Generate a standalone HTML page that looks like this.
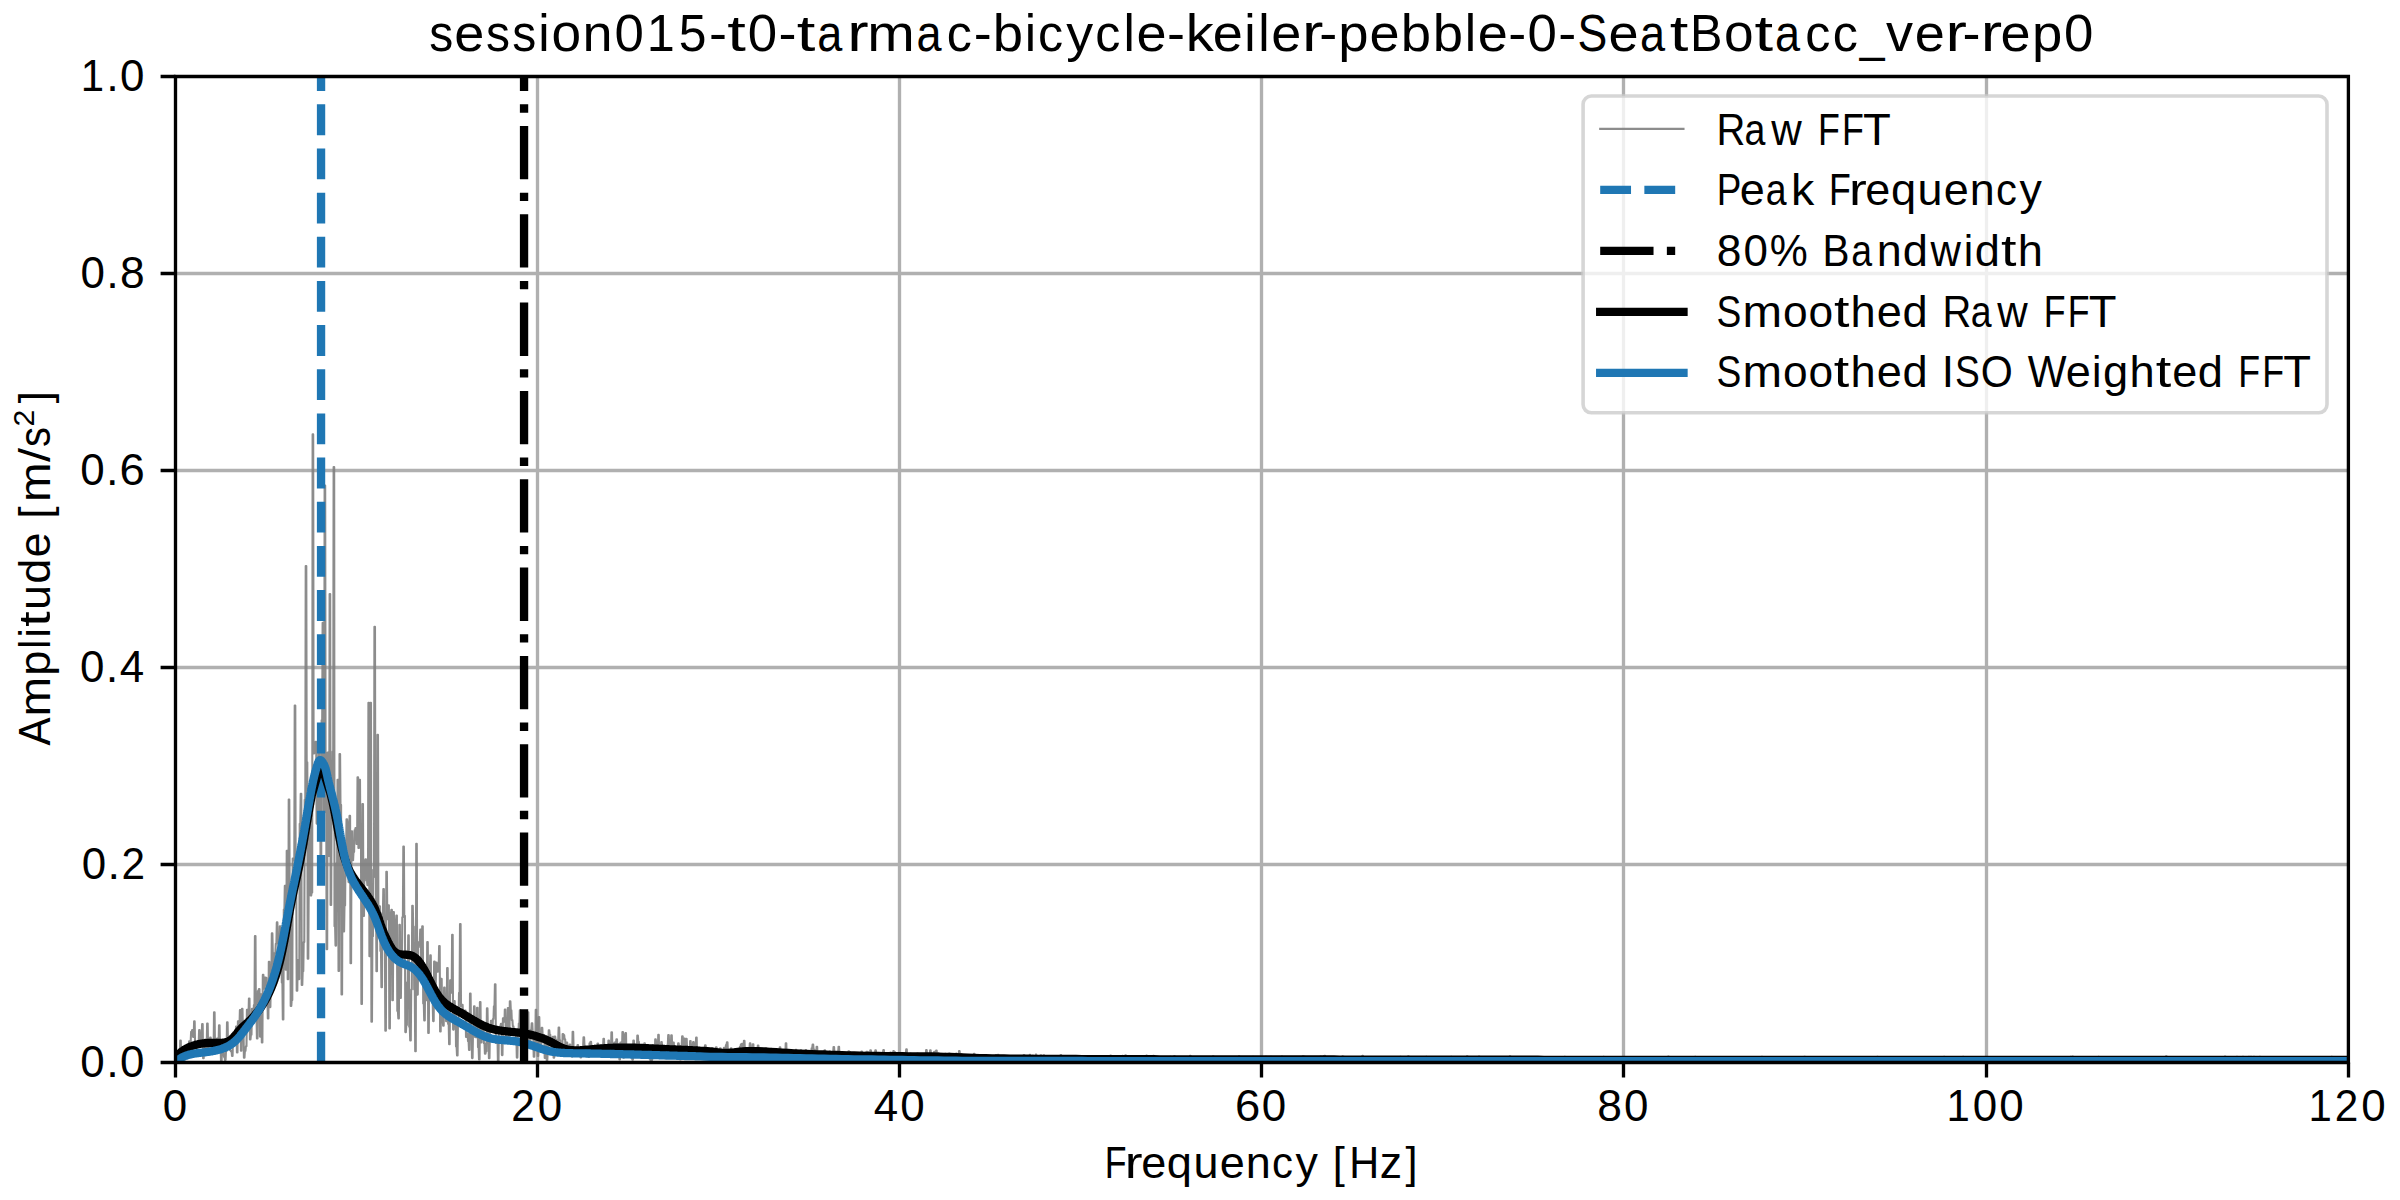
<!DOCTYPE html><html><head><meta charset="utf-8"><style>html,body{margin:0;padding:0;background:#fff;overflow:hidden}svg{display:block}text{font-family:"Liberation Sans",sans-serif;fill:#000}</style></head><body>
<svg width="2400" height="1200" viewBox="0 0 2400 1200">
<rect width="2400" height="1200" fill="#fff"/>
<defs><clipPath id="ax"><rect x="175.50" y="76.50" width="2172.90" height="986.00"/></clipPath></defs>
<path d="M537.50 1062.50V76.50M899.50 1062.50V76.50M1261.50 1062.50V76.50M1623.50 1062.50V76.50M1986.50 1062.50V76.50M175.50 864.50H2348.40M175.50 667.50H2348.40M175.50 470.50H2348.40M175.50 273.50H2348.40" stroke="#b0b0b0" stroke-width="3.33" fill="none" clip-path="url(#ax)"/>
<g clip-path="url(#ax)">
<path d="M175.2 1059.8L175.8 1059.8L176.2 1057.3L176.8 1057.3L177.2 1053.7L177.8 1053.7L178.2 1060.5L178.8 1060.5L179.2 1058.9L179.8 1058.9L180.2 1040.6L180.8 1040.6L181.2 1059.2L181.8 1059.2L182.2 1056.8L182.8 1056.8L183.2 1055.0L183.8 1055.0L184.2 1050.2L184.8 1050.2L185.2 1053.5L185.8 1053.5L186.2 1048.1L186.8 1048.1L187.2 1045.8L187.8 1045.8L188.1 1056.3L188.7 1056.3L189.1 1041.2L189.7 1041.2L190.1 1041.4L190.7 1041.4L191.1 1031.9L191.7 1031.9L192.1 1030.0L192.7 1030.0L193.1 1037.0L193.7 1037.0L194.1 1021.4L194.7 1021.4L195.1 1047.9L195.7 1047.9L196.1 1047.3L196.7 1047.3L197.1 1046.0L197.7 1046.0L198.1 1042.5L198.7 1042.5L199.1 1030.1L199.7 1030.1L200.1 1042.7L200.7 1042.7L201.1 1037.8L201.7 1037.8L202.1 1024.0L202.7 1024.0L203.1 1058.3L203.7 1058.3L204.1 1047.1L204.7 1047.1L205.1 1039.5L205.7 1039.5L206.1 1049.8L206.7 1049.8L207.1 1023.6L207.7 1023.6L208.1 1047.0L208.7 1047.0L209.1 1049.2L209.7 1049.2L210.1 1037.6L210.7 1037.6L211.1 1051.8L211.7 1051.8L212.0 1045.2L212.6 1045.2L213.0 1053.9L213.6 1053.9L214.0 1012.2L214.6 1012.2L215.0 1049.6L215.6 1049.6L216.0 1048.7L216.6 1048.7L217.0 1038.6L217.6 1038.6L218.0 1042.1L218.6 1042.1L219.0 1025.3L219.6 1025.3L220.0 1045.9L220.6 1045.9L221.0 1061.2L221.6 1061.2L222.0 1049.9L222.6 1049.9L223.0 1050.8L223.6 1050.8L224.0 1056.9L224.6 1056.9L225.0 1060.0L225.6 1060.0L226.0 1051.0L226.6 1051.0L227.0 1022.2L227.6 1022.2L228.0 1044.5L228.6 1044.5L229.0 1038.9L229.6 1038.9L230.0 1050.2L230.6 1050.2L231.0 1051.5L231.6 1051.5L232.0 1056.0L232.6 1056.0L233.0 1036.0L233.6 1036.0L234.0 1039.3L234.6 1039.3L235.0 1040.6L235.6 1040.6L236.0 1026.5L236.6 1026.5L236.9 1052.4L237.5 1052.4L237.9 1021.4L238.5 1021.4L238.9 1025.5L239.5 1025.5L239.9 1010.1L240.5 1010.1L240.9 1050.7L241.5 1050.7L241.9 1008.9L242.5 1008.9L242.9 1029.8L243.5 1029.8L243.9 1057.7L244.5 1057.7L244.9 1050.8L245.5 1050.8L245.9 1046.3L246.5 1046.3L246.9 1009.7L247.5 1009.7L247.9 1017.0L248.5 1017.0L248.9 998.6L249.5 998.6L249.9 1039.4L250.5 1039.4L250.9 1034.8L251.5 1034.8L251.9 1008.9L252.5 1008.9L252.9 1019.2L253.5 1019.2L253.9 1005.1L254.5 1005.1L254.9 936.0L255.5 936.0L255.9 1013.2L256.5 1013.2L256.9 1038.5L257.5 1038.5L257.9 991.0L258.5 991.0L258.9 989.0L259.5 989.0L259.9 1036.6L260.5 1036.6L260.8 994.4L261.4 994.4L261.8 1042.4L262.4 1042.4L262.8 974.9L263.4 974.9L263.8 988.8L264.4 988.8L264.8 977.6L265.4 977.6L265.8 977.7L266.4 977.7L266.8 992.1L267.4 992.1L267.8 1018.5L268.4 1018.5L268.8 961.8L269.4 961.8L269.8 1007.1L270.4 1007.1L270.8 979.5L271.4 979.5L271.8 933.4L272.4 933.4L272.8 953.1L273.4 953.1L273.8 976.6L274.4 976.6L274.8 953.1L275.4 953.1L275.8 943.7L276.4 943.7L276.8 922.4L277.4 922.4L277.8 939.9L278.4 939.9L278.8 966.1L279.4 966.1L279.8 926.2L280.4 926.2L280.8 936.9L281.4 936.9L281.8 982.6L282.4 982.6L282.8 1019.4L283.4 1019.4L283.8 909.6L284.4 909.6L284.8 885.7L285.4 885.7L285.7 969.7L286.3 969.7L286.7 850.8L287.3 850.8L287.7 979.2L288.3 979.2L288.7 799.5L289.3 799.5L289.7 898.0L290.3 898.0L290.7 1006.0L291.3 1006.0L291.7 1000.1L292.3 1000.1L292.7 858.6L293.3 858.6L293.7 860.5L294.3 860.5L294.7 705.5L295.3 705.5L295.7 890.6L296.3 890.6L296.7 990.7L297.3 990.7L297.7 960.4L298.3 960.4L298.7 979.1L299.3 979.1L299.7 823.7L300.3 823.7L300.7 793.7L301.3 793.7L301.7 985.0L302.3 985.0L302.7 971.2L303.3 971.2L303.7 942.1L304.3 942.1L304.7 799.7L305.3 799.7L305.7 566.0L306.3 566.0L306.7 762.3L307.3 762.3L307.7 958.7L308.3 958.7L308.7 890.8L309.3 890.8L309.6 794.6L310.2 794.6L310.6 895.5L311.2 895.5L311.6 892.6L312.2 892.6L312.6 434.4L313.2 434.4L313.6 753.4L314.2 753.4L314.6 752.2L315.2 752.2L315.6 741.9L316.2 741.9L316.6 823.6L317.2 823.6L317.6 821.4L318.2 821.4L318.6 726.5L319.2 726.5L319.6 795.0L320.2 795.0L320.6 877.2L321.2 877.2L321.6 720.3L322.2 720.3L322.6 622.7L323.2 622.7L323.6 812.8L324.2 812.8L324.6 485.5L325.2 485.5L325.6 771.3L326.2 771.3L326.6 949.2L327.2 949.2L327.6 752.6L328.2 752.6L328.6 856.0L329.2 856.0L329.6 594.0L330.2 594.0L330.6 905.0L331.2 905.0L331.6 792.1L332.2 792.1L332.6 751.6L333.2 751.6L333.6 467.0L334.2 467.0L334.5 926.3L335.1 926.3L335.5 945.6L336.1 945.6L336.5 863.3L337.1 863.3L337.5 779.8L338.1 779.8L338.5 970.9L339.1 970.9L339.5 754.0L340.1 754.0L340.5 804.9L341.1 804.9L341.5 994.4L342.1 994.4L342.5 847.6L343.1 847.6L343.5 931.4L344.1 931.4L344.5 905.4L345.1 905.4L345.5 855.4L346.1 855.4L346.5 819.3L347.1 819.3L347.5 822.6L348.1 822.6L348.5 882.1L349.1 882.1L349.5 815.9L350.1 815.9L350.5 963.3L351.1 963.3L351.5 831.4L352.1 831.4L352.5 860.2L353.1 860.2L353.5 852.0L354.1 852.0L354.5 830.4L355.1 830.4L355.5 828.0L356.1 828.0L356.5 843.9L357.1 843.9L357.5 777.3L358.1 777.3L358.4 848.0L359.0 848.0L359.4 779.7L360.0 779.7L360.4 843.9L361.0 843.9L361.4 1004.0L362.0 1004.0L362.4 804.0L363.0 804.0L363.4 916.0L364.0 916.0L364.4 862.7L365.0 862.7L365.4 859.2L366.0 859.2L366.4 880.6L367.0 880.6L367.4 885.1L368.0 885.1L368.4 702.7L369.0 702.7L369.4 956.2L370.0 956.2L370.4 702.7L371.0 702.7L371.4 1021.8L372.0 1021.8L372.4 936.3L373.0 936.3L373.4 869.8L374.0 869.8L374.4 626.8L375.0 626.8L375.4 877.2L376.0 877.2L376.4 971.2L377.0 971.2L377.4 734.9L378.0 734.9L378.4 918.2L379.0 918.2L379.4 906.2L380.0 906.2L380.4 951.0L381.0 951.0L381.4 987.2L382.0 987.2L382.3 913.0L382.9 913.0L383.3 889.0L383.9 889.0L384.3 942.9L384.9 942.9L385.3 1030.8L385.9 1030.8L386.3 871.8L386.9 871.8L387.3 919.1L387.9 919.1L388.3 905.3L388.9 905.3L389.3 1028.4L389.9 1028.4L390.3 913.7L390.9 913.7L391.3 909.9L391.9 909.9L392.3 1000.3L392.9 1000.3L393.3 912.1L393.9 912.1L394.3 951.2L394.9 951.2L395.3 922.2L395.9 922.2L396.3 915.6L396.9 915.6L397.3 1011.0L397.9 1011.0L398.3 1018.4L398.9 1018.4L399.3 924.9L399.9 924.9L400.3 998.0L400.9 998.0L401.3 960.1L401.9 960.1L402.3 917.2L402.9 917.2L403.3 846.6L403.9 846.6L404.3 915.8L404.9 915.8L405.3 1032.1L405.9 1032.1L406.3 1025.1L406.9 1025.1L407.2 982.3L407.8 982.3L408.2 935.4L408.8 935.4L409.2 1026.8L409.8 1026.8L410.2 1040.5L410.8 1040.5L411.2 989.5L411.8 989.5L412.2 905.7L412.8 905.7L413.2 926.6L413.8 926.6L414.2 989.4L414.8 989.4L415.2 1051.2L415.8 1051.2L416.2 843.8L416.8 843.8L417.2 994.6L417.8 994.6L418.2 947.2L418.8 947.2L419.2 941.7L419.8 941.7L420.2 929.6L420.8 929.6L421.2 963.9L421.8 963.9L422.2 926.2L422.8 926.2L423.2 1003.4L423.8 1003.4L424.2 1020.5L424.8 1020.5L425.2 975.3L425.8 975.3L426.2 1000.2L426.8 1000.2L427.2 942.1L427.8 942.1L428.2 1033.0L428.8 1033.0L429.2 976.9L429.8 976.9L430.2 955.4L430.8 955.4L431.1 990.7L431.7 990.7L432.1 1002.0L432.7 1002.0L433.1 1021.1L433.7 1021.1L434.1 961.5L434.7 961.5L435.1 988.2L435.7 988.2L436.1 962.6L436.7 962.6L437.1 971.8L437.7 971.8L438.1 967.4L438.7 967.4L439.1 946.0L439.7 946.0L440.1 1031.5L440.7 1031.5L441.1 978.9L441.7 978.9L442.1 1020.8L442.7 1020.8L443.1 1025.7L443.7 1025.7L444.1 987.6L444.7 987.6L445.1 1007.0L445.7 1007.0L446.1 1021.3L446.7 1021.3L447.1 968.0L447.7 968.0L448.1 1024.0L448.7 1024.0L449.1 1044.2L449.7 1044.2L450.1 980.3L450.7 980.3L451.1 992.8L451.7 992.8L452.1 934.7L452.7 934.7L453.1 1029.6L453.7 1029.6L454.1 1001.0L454.7 1001.0L455.1 1012.6L455.7 1012.6L456.0 1046.6L456.6 1046.6L457.0 1055.4L457.6 1055.4L458.0 1018.0L458.6 1018.0L459.0 992.9L459.6 992.9L460.0 924.0L460.6 924.0L461.0 1006.4L461.6 1006.4L462.0 1004.8L462.6 1004.8L463.0 1012.6L463.6 1012.6L464.0 1018.4L464.6 1018.4L465.0 1010.6L465.6 1010.6L466.0 1036.9L466.6 1036.9L467.0 1033.4L467.6 1033.4L468.0 1041.1L468.6 1041.1L469.0 1050.0L469.6 1050.0L470.0 993.5L470.6 993.5L471.0 1026.4L471.6 1026.4L472.0 1058.1L472.6 1058.1L473.0 1031.6L473.6 1031.6L474.0 1006.4L474.6 1006.4L475.0 1037.0L475.6 1037.0L476.0 1037.3L476.6 1037.3L477.0 1007.8L477.6 1007.8L478.0 1047.2L478.6 1047.2L479.0 1059.5L479.6 1059.5L479.9 1002.1L480.5 1002.1L480.9 1042.5L481.5 1042.5L481.9 1023.8L482.5 1023.8L482.9 1023.0L483.5 1023.0L483.9 1043.2L484.5 1043.2L484.9 1053.7L485.5 1053.7L485.9 1051.3L486.5 1051.3L486.9 1008.4L487.5 1008.4L487.9 1033.7L488.5 1033.7L488.9 1058.3L489.5 1058.3L489.9 1032.2L490.5 1032.2L490.9 1020.8L491.5 1020.8L491.9 1029.6L492.5 1029.6L492.9 1019.0L493.5 1019.0L493.9 1006.3L494.5 1006.3L494.9 984.3L495.5 984.3L495.9 1043.0L496.5 1043.0L496.9 1038.0L497.5 1038.0L497.9 1060.9L498.5 1060.9L498.9 1029.4L499.5 1029.4L499.9 1026.5L500.5 1026.5L500.9 1023.7L501.5 1023.7L501.9 1055.1L502.5 1055.1L502.9 1018.4L503.5 1018.4L503.9 1021.8L504.5 1021.8L504.8 1009.6L505.4 1009.6L505.8 1038.6L506.4 1038.6L506.8 1028.0L507.4 1028.0L507.8 1008.1L508.4 1008.1L508.8 1041.7L509.4 1041.7L509.8 1001.3L510.4 1001.3L510.8 1010.2L511.4 1010.2L511.8 1020.1L512.4 1020.1L512.8 1026.2L513.4 1026.2L513.8 1029.2L514.4 1029.2L514.8 1030.1L515.4 1030.1L515.8 1036.0L516.4 1036.0L516.8 1057.6L517.4 1057.6L517.8 1034.5L518.4 1034.5L518.8 1023.5L519.4 1023.5L519.8 1010.3L520.4 1010.3L520.8 1046.0L521.4 1046.0L521.8 1046.5L522.4 1046.5L522.8 1028.8L523.4 1028.8L523.8 1051.9L524.4 1051.9L524.8 1021.3L525.4 1021.3L525.8 1051.3L526.4 1051.3L526.8 1036.1L527.4 1036.1L527.8 1012.2L528.4 1012.2L528.7 1043.4L529.3 1043.4L529.7 1047.7L530.3 1047.7L530.7 1029.8L531.3 1029.8L531.7 1023.2L532.3 1023.2L532.7 1032.6L533.3 1032.6L533.7 1056.8L534.3 1056.8L534.7 1043.2L535.3 1043.2L535.7 1009.8L536.3 1009.8L536.7 1026.9L537.3 1026.9L537.7 1055.9L538.3 1055.9L538.7 1017.1L539.3 1017.1L539.7 1038.4L540.3 1038.4L540.7 1047.5L541.3 1047.5L541.7 1027.8L542.3 1027.8L542.7 1036.5L543.3 1036.5L543.7 1035.0L544.3 1035.0L544.7 1058.0L545.3 1058.0L545.7 1038.2L546.3 1038.2L546.7 1060.5L547.3 1060.5L547.7 1051.7L548.3 1051.7L548.7 1030.4L549.3 1030.4L549.7 1034.7L550.3 1034.7L550.7 1045.4L551.3 1045.4L551.7 1053.4L552.3 1053.4L552.7 1036.8L553.3 1036.8L553.6 1057.8L554.2 1057.8L554.6 1036.5L555.2 1036.5L555.6 1039.9L556.2 1039.9L556.6 1051.9L557.2 1051.9L557.6 1040.9L558.2 1040.9L558.6 1027.5L559.2 1027.5L559.6 1040.2L560.2 1040.2L560.6 1049.2L561.2 1049.2L561.6 1053.9L562.2 1053.9L562.6 1034.0L563.2 1034.0L563.6 1035.0L564.2 1035.0L564.6 1039.3L565.2 1039.3L565.6 1054.8L566.2 1054.8L566.6 1042.6L567.2 1042.6L567.6 1050.1L568.2 1050.1L568.6 1052.3L569.2 1052.3L569.6 1044.6L570.2 1044.6L570.6 1055.1L571.2 1055.1L571.6 1056.6L572.2 1056.6L572.6 1031.7L573.2 1031.7L573.6 1049.1L574.2 1049.1L574.6 1047.8L575.2 1047.8L575.6 1055.9L576.2 1055.9L576.6 1047.6L577.2 1047.6L577.5 1045.0L578.1 1045.0L578.5 1055.9L579.1 1055.9L579.5 1050.0L580.1 1050.0L580.5 1057.5L581.1 1057.5L581.5 1053.1L582.1 1053.1L582.5 1046.8L583.1 1046.8L583.5 1037.2L584.1 1037.2L584.5 1045.9L585.1 1045.9L585.5 1054.1L586.1 1054.1L586.5 1047.6L587.1 1047.6L587.5 1052.6L588.1 1052.6L588.5 1057.0L589.1 1057.0L589.5 1043.3L590.1 1043.3L590.5 1041.9L591.1 1041.9L591.5 1046.5L592.1 1046.5L592.5 1053.7L593.1 1053.7L593.5 1049.8L594.1 1049.8L594.5 1045.7L595.1 1045.7L595.5 1051.0L596.1 1051.0L596.5 1046.3L597.1 1046.3L597.5 1043.5L598.1 1043.5L598.5 1051.1L599.1 1051.1L599.5 1045.5L600.1 1045.5L600.5 1054.0L601.1 1054.0L601.5 1046.8L602.1 1046.8L602.4 1049.0L603.0 1049.0L603.4 1038.8L604.0 1038.8L604.4 1053.6L605.0 1053.6L605.4 1054.6L606.0 1054.6L606.4 1047.1L607.0 1047.1L607.4 1049.9L608.0 1049.9L608.4 1040.5L609.0 1040.5L609.4 1046.5L610.0 1046.5L610.4 1050.7L611.0 1050.7L611.4 1032.3L612.0 1032.3L612.4 1050.5L613.0 1050.5L613.4 1046.3L614.0 1046.3L614.4 1042.6L615.0 1042.6L615.4 1043.8L616.0 1043.8L616.4 1039.4L617.0 1039.4L617.4 1049.4L618.0 1049.4L618.4 1044.5L619.0 1044.5L619.4 1059.4L620.0 1059.4L620.4 1042.6L621.0 1042.6L621.4 1051.5L622.0 1051.5L622.4 1032.1L623.0 1032.1L623.4 1057.6L624.0 1057.6L624.4 1034.7L625.0 1034.7L625.4 1033.1L626.0 1033.1L626.3 1050.5L626.9 1050.5L627.3 1054.4L627.9 1054.4L628.3 1053.3L628.9 1053.3L629.3 1057.0L629.9 1057.0L630.3 1054.5L630.9 1054.5L631.3 1053.7L631.9 1053.7L632.3 1059.8L632.9 1059.8L633.3 1040.6L633.9 1040.6L634.3 1049.8L634.9 1049.8L635.3 1050.0L635.9 1050.0L636.3 1048.6L636.9 1048.6L637.3 1035.5L637.9 1035.5L638.3 1041.9L638.9 1041.9L639.3 1051.1L639.9 1051.1L640.3 1048.5L640.9 1048.5L641.3 1054.0L641.9 1054.0L642.3 1056.0L642.9 1056.0L643.3 1053.9L643.9 1053.9L644.3 1043.2L644.9 1043.2L645.3 1050.1L645.9 1050.1L646.3 1056.0L646.9 1056.0L647.3 1053.6L647.9 1053.6L648.3 1049.8L648.9 1049.8L649.3 1046.3L649.9 1046.3L650.3 1060.0L650.9 1060.0L651.2 1060.7L651.8 1060.7L652.2 1058.4L652.8 1058.4L653.2 1049.2L653.8 1049.2L654.2 1055.3L654.8 1055.3L655.2 1039.3L655.8 1039.3L656.2 1043.3L656.8 1043.3L657.2 1054.9L657.8 1054.9L658.2 1034.9L658.8 1034.9L659.2 1055.3L659.8 1055.3L660.2 1049.6L660.8 1049.6L661.2 1042.1L661.8 1042.1L662.2 1048.8L662.8 1048.8L663.2 1056.1L663.8 1056.1L664.2 1056.6L664.8 1056.6L665.2 1058.4L665.8 1058.4L666.2 1051.6L666.8 1051.6L667.2 1045.2L667.8 1045.2L668.2 1035.0L668.8 1035.0L669.2 1046.5L669.8 1046.5L670.2 1049.3L670.8 1049.3L671.2 1035.4L671.8 1035.4L672.2 1048.9L672.8 1048.9L673.2 1042.5L673.8 1042.5L674.2 1052.3L674.8 1052.3L675.1 1053.6L675.7 1053.6L676.1 1048.3L676.7 1048.3L677.1 1052.7L677.7 1052.7L678.1 1043.3L678.7 1043.3L679.1 1047.3L679.7 1047.3L680.1 1059.5L680.7 1059.5L681.1 1045.8L681.7 1045.8L682.1 1036.4L682.7 1036.4L683.1 1049.5L683.7 1049.5L684.1 1038.6L684.7 1038.6L685.1 1051.4L685.7 1051.4L686.1 1038.9L686.7 1038.9L687.1 1049.5L687.7 1049.5L688.1 1051.9L688.7 1051.9L689.1 1053.1L689.7 1053.1L690.1 1041.1L690.7 1041.1L691.1 1054.2L691.7 1054.2L692.1 1045.8L692.7 1045.8L693.1 1042.1L693.7 1042.1L694.1 1049.6L694.7 1049.6L695.1 1046.5L695.7 1046.5L696.1 1037.6L696.7 1037.6L697.1 1058.6L697.7 1058.6L698.1 1057.2L698.7 1057.2L699.0 1056.5L699.6 1056.5L700.0 1048.1L700.6 1048.1L701.0 1050.2L701.6 1050.2L702.0 1049.3L702.6 1049.3L703.0 1058.6L703.6 1058.6L704.0 1051.9L704.6 1051.9L705.0 1045.2L705.6 1045.2L706.0 1049.1L706.6 1049.1L707.0 1049.0L707.6 1049.0L708.0 1055.8L708.6 1055.8L709.0 1053.3L709.6 1053.3L710.0 1053.3L710.6 1053.3L711.0 1054.4L711.6 1054.4L712.0 1048.1L712.6 1048.1L713.0 1051.9L713.6 1051.9L714.0 1059.3L714.6 1059.3L715.0 1051.6L715.6 1051.6L716.0 1047.2L716.6 1047.2L717.0 1058.5L717.6 1058.5L718.0 1052.9L718.6 1052.9L719.0 1057.4L719.6 1057.4L720.0 1048.2L720.6 1048.2L721.0 1051.1L721.6 1051.1L722.0 1055.4L722.6 1055.4L723.0 1052.9L723.6 1052.9L723.9 1047.9L724.5 1047.9L724.9 1055.7L725.5 1055.7L725.9 1045.0L726.5 1045.0L726.9 1042.4L727.5 1042.4L727.9 1051.4L728.5 1051.4L728.9 1055.9L729.5 1055.9L729.9 1054.8L730.5 1054.8L730.9 1048.3L731.5 1048.3L731.9 1051.2L732.5 1051.2L732.9 1057.2L733.5 1057.2L733.9 1055.6L734.5 1055.6L734.9 1058.5L735.5 1058.5L735.9 1060.2L736.5 1060.2L736.9 1056.2L737.5 1056.2L737.9 1053.4L738.5 1053.4L738.9 1053.6L739.5 1053.6L739.9 1046.8L740.5 1046.8L740.9 1044.2L741.5 1044.2L741.9 1043.7L742.5 1043.7L742.9 1055.8L743.5 1055.8L743.9 1040.9L744.5 1040.9L744.9 1050.3L745.5 1050.3L745.9 1059.1L746.5 1059.1L746.9 1055.3L747.5 1055.3L747.8 1051.9L748.4 1051.9L748.8 1049.9L749.4 1049.9L749.8 1043.3L750.4 1043.3L750.8 1049.9L751.4 1049.9L751.8 1059.7L752.4 1059.7L752.8 1044.3L753.4 1044.3L753.8 1060.3L754.4 1060.3L754.8 1056.1L755.4 1056.1L755.8 1051.1L756.4 1051.1L756.8 1059.0L757.4 1059.0L757.8 1045.6L758.4 1045.6L758.8 1055.7L759.4 1055.7L759.8 1053.9L760.4 1053.9L760.8 1053.1L761.4 1053.1L761.8 1055.3L762.4 1055.3L762.8 1059.7L763.4 1059.7L763.8 1057.2L764.4 1057.2L764.8 1056.5L765.4 1056.5L765.8 1048.3L766.4 1048.3L766.8 1057.5L767.4 1057.5L767.8 1059.2L768.4 1059.2L768.8 1057.0L769.4 1057.0L769.8 1053.2L770.4 1053.2L770.8 1048.7L771.4 1048.7L771.8 1055.6L772.4 1055.6L772.7 1052.1L773.3 1052.1L773.7 1054.9L774.3 1054.9L774.7 1057.6L775.3 1057.6L775.7 1054.5L776.3 1054.5L776.7 1053.1L777.3 1053.1L777.7 1059.9L778.3 1059.9L778.7 1055.5L779.3 1055.5L779.7 1047.4L780.3 1047.4L780.7 1057.3L781.3 1057.3L781.7 1060.3L782.3 1060.3L782.7 1058.8L783.3 1058.8L783.7 1056.9L784.3 1056.9L784.7 1057.7L785.3 1057.7L785.7 1043.3L786.3 1043.3L786.7 1060.1L787.3 1060.1L787.7 1059.1L788.3 1059.1L788.7 1052.3L789.3 1052.3L789.7 1053.3L790.3 1053.3L790.7 1054.2L791.3 1054.2L791.7 1056.4L792.3 1056.4L792.7 1057.6L793.3 1057.6L793.7 1053.9L794.3 1053.9L794.7 1057.4L795.3 1057.4L795.7 1049.9L796.3 1049.9L796.6 1053.0L797.2 1053.0L797.6 1056.2L798.2 1056.2L798.6 1054.7L799.2 1054.7L799.6 1052.7L800.2 1052.7L800.6 1050.4L801.2 1050.4L801.6 1058.3L802.2 1058.3L802.6 1057.5L803.2 1057.5L803.6 1059.4L804.2 1059.4L804.6 1061.3L805.2 1061.3L805.6 1050.1L806.2 1050.1L806.6 1052.1L807.2 1052.1L807.6 1054.7L808.2 1054.7L808.6 1052.5L809.2 1052.5L809.6 1051.5L810.2 1051.5L810.6 1058.4L811.2 1058.4L811.6 1048.3L812.2 1048.3L812.6 1044.5L813.2 1044.5L813.6 1049.5L814.2 1049.5L814.6 1050.4L815.2 1050.4L815.6 1058.4L816.2 1058.4L816.6 1046.9L817.2 1046.9L817.6 1059.4L818.2 1059.4L818.6 1055.5L819.2 1055.5L819.6 1059.0L820.2 1059.0L820.6 1052.1L821.2 1052.1L821.5 1055.7L822.1 1055.7L822.5 1056.6L823.1 1056.6L823.5 1055.6L824.1 1055.6L824.5 1050.2L825.1 1050.2L825.5 1055.0L826.1 1055.0L826.5 1058.1L827.1 1058.1L827.5 1056.9L828.1 1056.9L828.5 1057.5L829.1 1057.5L829.5 1051.4L830.1 1051.4L830.5 1052.6L831.1 1052.6L831.5 1053.0L832.1 1053.0L832.5 1054.7L833.1 1054.7L833.5 1047.0L834.1 1047.0L834.5 1055.5L835.1 1055.5L835.5 1060.4L836.1 1060.4L836.5 1055.7L837.1 1055.7L837.5 1053.7L838.1 1053.7L838.5 1046.7L839.1 1046.7L839.5 1059.7L840.1 1059.7L840.5 1054.8L841.1 1054.8L841.5 1054.2L842.1 1054.2L842.5 1057.8L843.1 1057.8L843.5 1059.1L844.1 1059.1L844.5 1056.7L845.1 1056.7L845.4 1061.2L846.0 1061.2L846.4 1060.1L847.0 1060.1L847.4 1053.1L848.0 1053.1L848.4 1051.2L849.0 1051.2L849.4 1051.7L850.0 1051.7L850.4 1053.7L851.0 1053.7L851.4 1059.8L852.0 1059.8L852.4 1053.1L853.0 1053.1L853.4 1059.6L854.0 1059.6L854.4 1054.8L855.0 1054.8L855.4 1058.0L856.0 1058.0L856.4 1055.9L857.0 1055.9L857.4 1059.2L858.0 1059.2L858.4 1058.0L859.0 1058.0L859.4 1053.9L860.0 1053.9L860.4 1056.0L861.0 1056.0L861.4 1051.6L862.0 1051.6L862.4 1058.3L863.0 1058.3L863.4 1056.2L864.0 1056.2L864.4 1059.8L865.0 1059.8L865.4 1057.3L866.0 1057.3L866.4 1051.7L867.0 1051.7L867.4 1052.0L868.0 1052.0L868.4 1060.7L869.0 1060.7L869.4 1055.8L870.0 1055.8L870.3 1050.3L870.9 1050.3L871.3 1055.0L871.9 1055.0L872.3 1053.1L872.9 1053.1L873.3 1060.7L873.9 1060.7L874.3 1056.8L874.9 1056.8L875.3 1050.3L875.9 1050.3L876.3 1058.4L876.9 1058.4L877.3 1059.8L877.9 1059.8L878.3 1056.3L878.9 1056.3L879.3 1057.5L879.9 1057.5L880.3 1059.1L880.9 1059.1L881.3 1058.0L881.9 1058.0L882.3 1054.2L882.9 1054.2L883.3 1050.1L883.9 1050.1L884.3 1060.9L884.9 1060.9L885.3 1057.3L885.9 1057.3L886.3 1057.4L886.9 1057.4L887.3 1055.9L887.9 1055.9L888.3 1054.1L888.9 1054.1L889.3 1056.9L889.9 1056.9L890.3 1052.5L890.9 1052.5L891.3 1059.6L891.9 1059.6L892.3 1053.9L892.9 1053.9L893.3 1051.1L893.9 1051.1L894.2 1051.8L894.8 1051.8L895.2 1059.5L895.8 1059.5L896.2 1054.8L896.8 1054.8L897.2 1057.2L897.8 1057.2L898.2 1060.3L898.8 1060.3L899.2 1055.1L899.8 1055.1L900.2 1060.9L900.8 1060.9L901.2 1059.3L901.8 1059.3L902.2 1058.9L902.8 1058.9L903.2 1053.0L903.8 1053.0L904.2 1054.9L904.8 1054.9L905.2 1054.8L905.8 1054.8L906.2 1049.4L906.8 1049.4L907.2 1060.1L907.8 1060.1L908.2 1056.4L908.8 1056.4L909.2 1060.2L909.8 1060.2L910.2 1053.5L910.8 1053.5L911.2 1060.2L911.8 1060.2L912.2 1059.2L912.8 1059.2L913.2 1057.1L913.8 1057.1L914.2 1055.2L914.8 1055.2L915.2 1057.2L915.8 1057.2L916.2 1057.0L916.8 1057.0L917.2 1053.6L917.8 1053.6L918.2 1058.3L918.8 1058.3L919.1 1055.4L919.7 1055.4L920.1 1058.4L920.7 1058.4L921.1 1058.8L921.7 1058.8L922.1 1057.0L922.7 1057.0L923.1 1058.1L923.7 1058.1L924.1 1059.1L924.7 1059.1L925.1 1060.9L925.7 1060.9L926.1 1050.1L926.7 1050.1L927.1 1056.1L927.7 1056.1L928.1 1056.4L928.7 1056.4L929.1 1060.8L929.7 1060.8L930.1 1050.3L930.7 1050.3L931.1 1058.9L931.7 1058.9L932.1 1056.7L932.7 1056.7L933.1 1056.7L933.7 1056.7L934.1 1051.8L934.7 1051.8L935.1 1057.6L935.7 1057.6L936.1 1050.6L936.7 1050.6L937.1 1057.5L937.7 1057.5L938.1 1053.2L938.7 1053.2L939.1 1059.2L939.7 1059.2L940.1 1055.2L940.7 1055.2L941.1 1055.1L941.7 1055.1L942.1 1057.7L942.7 1057.7L943.0 1057.1L943.6 1057.1L944.0 1061.3L944.6 1061.3L945.0 1053.7L945.6 1053.7L946.0 1056.4L946.6 1056.4L947.0 1058.0L947.6 1058.0L948.0 1058.4L948.6 1058.4L949.0 1053.6L949.6 1053.6L950.0 1059.6L950.6 1059.6L951.0 1058.8L951.6 1058.8L952.0 1059.3L952.6 1059.3L953.0 1058.5L953.6 1058.5L954.0 1059.7L954.6 1059.7L955.0 1060.0L955.6 1060.0L956.0 1053.6L956.6 1053.6L957.0 1056.1L957.6 1056.1L958.0 1060.7L958.6 1060.7L959.0 1051.1L959.6 1051.1L960.0 1055.7L960.6 1055.7L961.0 1054.0L961.6 1054.0L962.0 1057.1L962.6 1057.1L963.0 1058.6L963.6 1058.6L964.0 1059.0L964.6 1059.0L965.0 1058.0L965.6 1058.0L966.0 1057.9L966.6 1057.9L967.0 1058.5L967.6 1058.5L967.9 1056.1L968.5 1056.1L968.9 1057.5L969.5 1057.5L969.9 1059.9L970.5 1059.9L970.9 1059.3L971.5 1059.3L971.9 1060.3L972.5 1060.3L972.9 1058.2L973.5 1058.2L973.9 1053.7L974.5 1053.7L974.9 1057.4L975.5 1057.4L975.9 1059.7L976.5 1059.7L976.9 1059.5L977.5 1059.5L977.9 1059.6L978.5 1059.6L978.9 1061.7L979.5 1061.7L979.9 1055.4L980.5 1055.4L980.9 1055.4L981.5 1055.4L981.9 1058.8L982.5 1058.8L982.9 1059.9L983.5 1059.9L983.9 1059.9L984.5 1059.9L984.9 1058.0L985.5 1058.0L985.9 1059.6L986.5 1059.6L986.9 1056.7L987.5 1056.7L987.9 1057.1L988.5 1057.1L988.9 1056.3L989.5 1056.3L989.9 1057.2L990.5 1057.2L990.9 1059.3L991.5 1059.3L991.8 1060.5L992.4 1060.5L992.8 1061.9L993.4 1061.9L993.8 1056.7L994.4 1056.7L994.8 1058.6L995.4 1058.6L995.8 1055.1L996.4 1055.1L996.8 1056.5L997.4 1056.5L997.8 1054.7L998.4 1054.7L998.8 1056.0L999.4 1056.0L999.8 1061.5L1000.4 1061.5L1000.8 1060.6L1001.4 1060.6L1001.8 1059.2L1002.4 1059.2L1002.8 1058.2L1003.4 1058.2L1003.8 1056.1L1004.4 1056.1L1004.8 1060.0L1005.4 1060.0L1005.8 1062.3L1006.4 1062.3L1006.8 1056.4L1007.4 1056.4L1007.8 1058.9L1008.4 1058.9L1008.8 1060.7L1009.4 1060.7L1009.8 1057.4L1010.4 1057.4L1010.8 1060.6L1011.4 1060.6L1011.8 1059.9L1012.4 1059.9L1012.8 1059.9L1013.4 1059.9L1013.8 1057.9L1014.4 1057.9L1014.8 1058.4L1015.4 1058.4L1015.8 1057.6L1016.4 1057.6L1016.7 1056.5L1017.3 1056.5L1017.7 1058.2L1018.3 1058.2L1018.7 1059.4L1019.3 1059.4L1019.7 1058.2L1020.3 1058.2L1020.7 1056.5L1021.3 1056.5L1021.7 1059.8L1022.3 1059.8L1022.7 1059.0L1023.3 1059.0L1023.7 1055.1L1024.3 1055.1L1024.7 1055.8L1025.3 1055.8L1025.7 1059.1L1026.3 1059.1L1026.7 1058.5L1027.3 1058.5L1027.7 1060.0L1028.3 1060.0L1028.7 1059.1L1029.3 1059.1L1029.7 1054.8L1030.3 1054.8L1030.7 1057.2L1031.3 1057.2L1031.7 1060.3L1032.3 1060.3L1032.7 1055.6L1033.3 1055.6L1033.7 1058.5L1034.3 1058.5L1034.7 1059.7L1035.3 1059.7L1035.7 1054.6L1036.3 1054.6L1036.7 1060.1L1037.3 1060.1L1037.7 1061.4L1038.3 1061.4L1038.7 1062.1L1039.3 1062.1L1039.7 1058.9L1040.3 1058.9L1040.6 1055.2L1041.2 1055.2L1041.6 1056.8L1042.2 1056.8L1042.6 1061.0L1043.2 1061.0L1043.6 1055.4L1044.2 1055.4L1044.6 1057.2L1045.2 1057.2L1045.6 1058.1L1046.2 1058.1L1046.6 1058.2L1047.2 1058.2L1047.6 1060.4L1048.2 1060.4L1048.6 1059.0L1049.2 1059.0L1049.6 1062.2L1050.2 1062.2L1050.6 1061.7L1051.2 1061.7L1051.6 1057.2L1052.2 1057.2L1052.6 1061.8L1053.2 1061.8L1053.6 1057.4L1054.2 1057.4L1054.6 1059.3L1055.2 1059.3L1055.6 1058.2L1056.2 1058.2L1056.6 1060.6L1057.2 1060.6L1057.6 1060.2L1058.2 1060.2L1058.6 1061.2L1059.2 1061.2L1059.6 1058.7L1060.2 1058.7L1060.6 1055.1L1061.2 1055.1L1061.6 1058.2L1062.2 1058.2L1062.6 1056.4L1063.2 1056.4L1063.6 1060.7L1064.2 1060.7L1064.5 1059.5L1065.1 1059.5L1065.5 1060.9L1066.1 1060.9L1066.5 1058.5L1067.1 1058.5L1067.5 1057.8L1068.1 1057.8L1068.5 1060.3L1069.1 1060.3L1069.5 1058.7L1070.1 1058.7L1070.5 1061.0L1071.1 1061.0L1071.5 1059.8L1072.1 1059.8L1072.5 1061.4L1073.1 1061.4L1073.5 1059.1L1074.1 1059.1L1074.5 1056.4L1075.1 1056.4L1075.5 1058.6L1076.1 1058.6L1076.5 1061.2L1077.1 1061.2L1077.5 1061.5L1078.1 1061.5L1078.5 1058.3L1079.1 1058.3L1079.5 1057.1L1080.1 1057.1L1080.5 1060.5L1081.1 1060.5L1081.5 1060.8L1082.1 1060.8L1082.5 1061.2L1083.1 1061.2L1083.5 1058.0L1084.1 1058.0L1084.5 1059.0L1085.1 1059.0L1085.5 1061.3L1086.1 1061.3L1086.5 1058.4L1087.1 1058.4L1087.5 1061.0L1088.1 1061.0L1088.5 1056.1L1089.1 1056.1L1089.4 1060.6L1090.0 1060.6L1090.4 1059.4L1091.0 1059.4L1091.4 1059.1L1092.0 1059.1L1092.4 1059.2L1093.0 1059.2L1093.4 1061.8L1094.0 1061.8L1094.4 1060.2L1095.0 1060.2L1095.4 1059.9L1096.0 1059.9L1096.4 1058.2L1097.0 1058.2L1097.4 1060.4L1098.0 1060.4L1098.4 1059.6L1099.0 1059.6L1099.4 1059.0L1100.0 1059.0L1100.4 1059.4L1101.0 1059.4L1101.4 1058.5L1102.0 1058.5L1102.4 1060.1L1103.0 1060.1L1103.4 1056.8L1104.0 1056.8L1104.4 1059.6L1105.0 1059.6L1105.4 1058.7L1106.0 1058.7L1106.4 1058.4L1107.0 1058.4L1107.4 1057.4L1108.0 1057.4L1108.4 1058.9L1109.0 1058.9L1109.4 1058.9L1110.0 1058.9L1110.4 1055.5L1111.0 1055.5L1111.4 1057.4L1112.0 1057.4L1112.4 1059.1L1113.0 1059.1L1113.3 1059.4L1113.9 1059.4L1114.3 1059.4L1114.9 1059.4L1115.3 1058.3L1115.9 1058.3L1116.3 1060.1L1116.9 1060.1L1117.3 1058.6L1117.9 1058.6L1118.3 1058.1L1118.9 1058.1L1119.3 1057.9L1119.9 1057.9L1120.3 1060.5L1120.9 1060.5L1121.3 1056.8L1121.9 1056.8L1122.3 1055.9L1122.9 1055.9L1123.3 1057.0L1123.9 1057.0L1124.3 1060.8L1124.9 1060.8L1125.3 1055.3L1125.9 1055.3L1126.3 1060.4L1126.9 1060.4L1127.3 1061.0L1127.9 1061.0L1128.3 1060.2L1128.9 1060.2L1129.3 1058.7L1129.9 1058.7L1130.3 1060.3L1130.9 1060.3L1131.3 1058.7L1131.9 1058.7L1132.3 1059.7L1132.9 1059.7L1133.3 1057.6L1133.9 1057.6L1134.3 1058.7L1134.9 1058.7L1135.3 1057.5L1135.9 1057.5L1136.3 1060.6L1136.9 1060.6L1137.3 1061.1L1137.9 1061.1L1138.2 1059.2L1138.8 1059.2L1139.2 1056.4L1139.8 1056.4L1140.2 1057.9L1140.8 1057.9L1141.2 1057.2L1141.8 1057.2L1142.2 1061.4L1142.8 1061.4L1143.2 1058.8L1143.8 1058.8L1144.2 1059.9L1144.8 1059.9L1145.2 1056.1L1145.8 1056.1L1146.2 1055.6L1146.8 1055.6L1147.2 1061.1L1147.8 1061.1L1148.2 1062.0L1148.8 1062.0L1149.2 1058.3L1149.8 1058.3L1150.2 1058.6L1150.8 1058.6L1151.2 1057.4L1151.8 1057.4L1152.2 1059.2L1152.8 1059.2L1153.2 1055.8L1153.8 1055.8L1154.2 1062.2L1154.8 1062.2L1155.2 1061.8L1155.8 1061.8L1156.2 1058.8L1156.8 1058.8L1157.2 1059.0L1157.8 1059.0L1158.2 1059.3L1158.8 1059.3L1159.2 1058.3L1159.8 1058.3L1160.2 1059.5L1160.8 1059.5L1161.2 1057.7L1161.8 1057.7L1162.1 1059.8L1162.7 1059.8L1163.1 1060.0L1163.7 1060.0L1164.1 1059.8L1164.7 1059.8L1165.1 1059.0L1165.7 1059.0L1166.1 1060.3L1166.7 1060.3L1167.1 1060.0L1167.7 1060.0L1168.1 1060.1L1168.7 1060.1L1169.1 1059.4L1169.7 1059.4L1170.1 1056.7L1170.7 1056.7L1171.1 1059.4L1171.7 1059.4L1172.1 1060.8L1172.7 1060.8L1173.1 1058.2L1173.7 1058.2L1174.1 1056.1L1174.7 1056.1L1175.1 1059.4L1175.7 1059.4L1176.1 1058.4L1176.7 1058.4L1177.1 1059.4L1177.7 1059.4L1178.1 1061.3L1178.7 1061.3L1179.1 1061.1L1179.7 1061.1L1180.1 1058.7L1180.7 1058.7L1181.1 1059.7L1181.7 1059.7L1182.1 1060.5L1182.7 1060.5L1183.1 1061.8L1183.7 1061.8L1184.1 1059.0L1184.7 1059.0L1185.1 1060.8L1185.7 1060.8L1186.1 1058.7L1186.7 1058.7L1187.0 1060.3L1187.6 1060.3L1188.0 1061.0L1188.6 1061.0L1189.0 1060.4L1189.6 1060.4L1190.0 1055.7L1190.6 1055.7L1191.0 1060.7L1191.6 1060.7L1192.0 1060.4L1192.6 1060.4L1193.0 1058.6L1193.6 1058.6L1194.0 1057.6L1194.6 1057.6L1195.0 1059.7L1195.6 1059.7L1196.0 1058.1L1196.6 1058.1L1197.0 1059.7L1197.6 1059.7L1198.0 1060.1L1198.6 1060.1L1199.0 1059.1L1199.6 1059.1L1200.0 1059.8L1200.6 1059.8L1201.0 1061.4L1201.6 1061.4L1202.0 1060.2L1202.6 1060.2L1203.0 1061.1L1203.6 1061.1L1204.0 1060.5L1204.6 1060.5L1205.0 1059.7L1205.6 1059.7L1206.0 1060.0L1206.6 1060.0L1207.0 1058.7L1207.6 1058.7L1208.0 1057.0L1208.6 1057.0L1209.0 1058.9L1209.6 1058.9L1210.0 1058.5L1210.6 1058.5L1210.9 1058.8L1211.5 1058.8L1211.9 1059.9L1212.5 1059.9L1212.9 1056.3L1213.5 1056.3L1213.9 1058.2L1214.5 1058.2L1214.9 1060.9L1215.5 1060.9L1215.9 1061.0L1216.5 1061.0L1216.9 1061.6L1217.5 1061.6L1217.9 1058.8L1218.5 1058.8L1218.9 1057.5L1219.5 1057.5L1219.9 1062.4L1220.5 1062.4L1220.9 1058.6L1221.5 1058.6L1221.9 1057.9L1222.5 1057.9L1222.9 1061.7L1223.5 1061.7L1223.9 1060.6L1224.5 1060.6L1224.9 1061.5L1225.5 1061.5L1225.9 1059.4L1226.5 1059.4L1226.9 1059.8L1227.5 1059.8L1227.9 1059.4L1228.5 1059.4L1228.9 1061.0L1229.5 1061.0L1229.9 1061.3L1230.5 1061.3L1230.9 1057.7L1231.5 1057.7L1231.9 1061.8L1232.5 1061.8L1232.9 1061.0L1233.5 1061.0L1233.9 1061.2L1234.5 1061.2L1234.9 1062.4L1235.5 1062.4L1235.8 1059.6L1236.4 1059.6L1236.8 1059.9L1237.4 1059.9L1237.8 1059.5L1238.4 1059.5L1238.8 1056.4L1239.4 1056.4L1239.8 1058.1L1240.4 1058.1L1240.8 1059.8L1241.4 1059.8L1241.8 1062.1L1242.4 1062.1L1242.8 1060.4L1243.4 1060.4L1243.8 1057.9L1244.4 1057.9L1244.8 1059.6L1245.4 1059.6L1245.8 1059.5L1246.4 1059.5L1246.8 1060.6L1247.4 1060.6L1247.8 1059.8L1248.4 1059.8L1248.8 1061.6L1249.4 1061.6L1249.8 1060.8L1250.4 1060.8L1250.8 1058.7L1251.4 1058.7L1251.8 1060.2L1252.4 1060.2L1252.8 1056.7L1253.4 1056.7L1253.8 1059.0L1254.4 1059.0L1254.8 1059.7L1255.4 1059.7L1255.8 1059.3L1256.4 1059.3L1256.8 1061.1L1257.4 1061.1L1257.8 1060.5L1258.4 1060.5L1258.8 1060.2L1259.4 1060.2L1259.7 1060.0L1260.3 1060.0L1260.7 1057.6L1261.3 1057.6L1261.7 1061.7L1262.3 1061.7L1262.7 1060.3L1263.3 1060.3L1263.7 1059.3L1264.3 1059.3L1264.7 1060.8L1265.3 1060.8L1265.7 1056.8L1266.3 1056.8L1266.7 1059.9L1267.3 1059.9L1267.7 1058.1L1268.3 1058.1L1268.7 1059.9L1269.3 1059.9L1269.7 1058.6L1270.3 1058.6L1270.7 1056.7L1271.3 1056.7L1271.7 1059.7L1272.3 1059.7L1272.7 1060.1L1273.3 1060.1L1273.7 1059.4L1274.3 1059.4L1274.7 1059.4L1275.3 1059.4L1275.7 1060.4L1276.3 1060.4L1276.7 1057.8L1277.3 1057.8L1277.7 1058.2L1278.3 1058.2L1278.7 1060.1L1279.3 1060.1L1279.7 1061.0L1280.3 1061.0L1280.7 1060.2L1281.3 1060.2L1281.7 1056.6L1282.3 1056.6L1282.7 1057.4L1283.3 1057.4L1283.7 1059.6L1284.3 1059.6L1284.6 1060.1L1285.2 1060.1L1285.6 1058.9L1286.2 1058.9L1286.6 1058.3L1287.2 1058.3L1287.6 1061.5L1288.2 1061.5L1288.6 1058.2L1289.2 1058.2L1289.6 1059.5L1290.2 1059.5L1290.6 1058.9L1291.2 1058.9L1291.6 1060.9L1292.2 1060.9L1292.6 1061.4L1293.2 1061.4L1293.6 1060.4L1294.2 1060.4L1294.6 1059.6L1295.2 1059.6L1295.6 1058.6L1296.2 1058.6L1296.6 1058.5L1297.2 1058.5L1297.6 1059.6L1298.2 1059.6L1298.6 1058.0L1299.2 1058.0L1299.6 1058.3L1300.2 1058.3L1300.6 1060.7L1301.2 1060.7L1301.6 1061.9L1302.2 1061.9L1302.6 1056.2L1303.2 1056.2L1303.6 1056.5L1304.2 1056.5L1304.6 1056.9L1305.2 1056.9L1305.6 1058.5L1306.2 1058.5L1306.6 1057.9L1307.2 1057.9L1307.6 1060.2L1308.2 1060.2L1308.5 1057.0L1309.1 1057.0L1309.5 1059.1L1310.1 1059.1L1310.5 1058.0L1311.1 1058.0L1311.5 1058.3L1312.1 1058.3L1312.5 1061.2L1313.1 1061.2L1313.5 1061.1L1314.1 1061.1L1314.5 1058.0L1315.1 1058.0L1315.5 1059.8L1316.1 1059.8L1316.5 1058.8L1317.1 1058.8L1317.5 1059.9L1318.1 1059.9L1318.5 1058.1L1319.1 1058.1L1319.5 1061.9L1320.1 1061.9L1320.5 1056.5L1321.1 1056.5L1321.5 1059.3L1322.1 1059.3L1322.5 1057.9L1323.1 1057.9L1323.5 1056.1L1324.1 1056.1L1324.5 1055.8L1325.1 1055.8L1325.5 1060.6L1326.1 1060.6L1326.5 1061.1L1327.1 1061.1L1327.5 1058.9L1328.1 1058.9L1328.5 1058.8L1329.1 1058.8L1329.5 1061.6L1330.1 1061.6L1330.5 1062.2L1331.1 1062.2L1331.5 1060.4L1332.1 1060.4L1332.5 1058.8L1333.1 1058.8L1333.4 1061.7L1334.0 1061.7L1334.4 1057.9L1335.0 1057.9L1335.4 1060.1L1336.0 1060.1L1336.4 1058.8L1337.0 1058.8L1337.4 1059.1L1338.0 1059.1L1338.4 1060.1L1339.0 1060.1L1339.4 1060.3L1340.0 1060.3L1340.4 1059.9L1341.0 1059.9L1341.4 1059.5L1342.0 1059.5L1342.4 1056.3L1343.0 1056.3L1343.4 1056.8L1344.0 1056.8L1344.4 1059.8L1345.0 1059.8L1345.4 1060.7L1346.0 1060.7L1346.4 1061.6L1347.0 1061.6L1347.4 1060.5L1348.0 1060.5L1348.4 1058.9L1349.0 1058.9L1349.4 1061.8L1350.0 1061.8L1350.4 1060.0L1351.0 1060.0L1351.4 1061.2L1352.0 1061.2L1352.4 1060.3L1353.0 1060.3L1353.4 1060.5L1354.0 1060.5L1354.4 1059.2L1355.0 1059.2L1355.4 1060.6L1356.0 1060.6L1356.4 1058.0L1357.0 1058.0L1357.3 1061.2L1357.9 1061.2L1358.3 1061.6L1358.9 1061.6L1359.3 1060.7L1359.9 1060.7L1360.3 1061.4L1360.9 1061.4L1361.3 1059.0L1361.9 1059.0L1362.3 1055.9L1362.9 1055.9L1363.3 1060.5L1363.9 1060.5L1364.3 1058.2L1364.9 1058.2L1365.3 1061.0L1365.9 1061.0L1366.3 1057.6L1366.9 1057.6L1367.3 1058.9L1367.9 1058.9L1368.3 1059.2L1368.9 1059.2L1369.3 1060.1L1369.9 1060.1L1370.3 1060.0L1370.9 1060.0L1371.3 1058.8L1371.9 1058.8L1372.3 1059.4L1372.9 1059.4L1373.3 1060.7L1373.9 1060.7L1374.3 1059.1L1374.9 1059.1L1375.3 1060.7L1375.9 1060.7L1376.3 1058.2L1376.9 1058.2L1377.3 1058.2L1377.9 1058.2L1378.3 1060.1L1378.9 1060.1L1379.3 1058.9L1379.9 1058.9L1380.3 1060.5L1380.9 1060.5L1381.3 1058.4L1381.9 1058.4L1382.2 1058.5L1382.8 1058.5L1383.2 1057.7L1383.8 1057.7L1384.2 1057.6L1384.8 1057.6L1385.2 1058.5L1385.8 1058.5L1386.2 1057.2L1386.8 1057.2L1387.2 1061.6L1387.8 1061.6L1388.2 1058.1L1388.8 1058.1L1389.2 1061.1L1389.8 1061.1L1390.2 1057.4L1390.8 1057.4L1391.2 1059.1L1391.8 1059.1L1392.2 1058.8L1392.8 1058.8L1393.2 1059.4L1393.8 1059.4L1394.2 1061.2L1394.8 1061.2L1395.2 1058.6L1395.8 1058.6L1396.2 1058.3L1396.8 1058.3L1397.2 1058.7L1397.8 1058.7L1398.2 1061.2L1398.8 1061.2L1399.2 1058.8L1399.8 1058.8L1400.2 1056.7L1400.8 1056.7L1401.2 1059.7L1401.8 1059.7L1402.2 1061.6L1402.8 1061.6L1403.2 1060.9L1403.8 1060.9L1404.2 1060.1L1404.8 1060.1L1405.2 1061.9L1405.8 1061.9L1406.1 1058.5L1406.7 1058.5L1407.1 1060.8L1407.7 1060.8L1408.1 1056.3L1408.7 1056.3L1409.1 1059.8L1409.7 1059.8L1410.1 1057.7L1410.7 1057.7L1411.1 1058.3L1411.7 1058.3L1412.1 1060.9L1412.7 1060.9L1413.1 1060.9L1413.7 1060.9L1414.1 1058.5L1414.7 1058.5L1415.1 1060.0L1415.7 1060.0L1416.1 1060.5L1416.7 1060.5L1417.1 1061.3L1417.7 1061.3L1418.1 1059.6L1418.7 1059.6L1419.1 1060.6L1419.7 1060.6L1420.1 1057.1L1420.7 1057.1L1421.1 1060.1L1421.7 1060.1L1422.1 1057.4L1422.7 1057.4L1423.1 1061.6L1423.7 1061.6L1424.1 1059.4L1424.7 1059.4L1425.1 1060.3L1425.7 1060.3L1426.1 1056.9L1426.7 1056.9L1427.1 1061.8L1427.7 1061.8L1428.1 1057.1L1428.7 1057.1L1429.1 1059.9L1429.7 1059.9L1430.0 1061.5L1430.6 1061.5L1431.0 1057.6L1431.6 1057.6L1432.0 1061.1L1432.6 1061.1L1433.0 1059.6L1433.6 1059.6L1434.0 1059.3L1434.6 1059.3L1435.0 1060.6L1435.6 1060.6L1436.0 1058.4L1436.6 1058.4L1437.0 1061.1L1437.6 1061.1L1438.0 1061.3L1438.6 1061.3L1439.0 1060.9L1439.6 1060.9L1440.0 1060.0L1440.6 1060.0L1441.0 1060.4L1441.6 1060.4L1442.0 1057.9L1442.6 1057.9L1443.0 1059.6L1443.6 1059.6L1444.0 1062.1L1444.6 1062.1L1445.0 1060.0L1445.6 1060.0L1446.0 1061.3L1446.6 1061.3L1447.0 1058.4L1447.6 1058.4L1448.0 1058.9L1448.6 1058.9L1449.0 1058.4L1449.6 1058.4L1450.0 1059.5L1450.6 1059.5L1451.0 1056.8L1451.6 1056.8L1452.0 1059.9L1452.6 1059.9L1453.0 1059.8L1453.6 1059.8L1454.0 1059.7L1454.6 1059.7L1454.9 1061.6L1455.5 1061.6L1455.9 1059.2L1456.5 1059.2L1456.9 1058.3L1457.5 1058.3L1457.9 1061.7L1458.5 1061.7L1458.9 1059.2L1459.5 1059.2L1459.9 1060.5L1460.5 1060.5L1460.9 1057.5L1461.5 1057.5L1461.9 1062.0L1462.5 1062.0L1462.9 1060.6L1463.5 1060.6L1463.9 1060.7L1464.5 1060.7L1464.9 1059.9L1465.5 1059.9L1465.9 1060.8L1466.5 1060.8L1466.9 1056.3L1467.5 1056.3L1467.9 1061.1L1468.5 1061.1L1468.9 1061.8L1469.5 1061.8L1469.9 1060.1L1470.5 1060.1L1470.9 1057.3L1471.5 1057.3L1471.9 1060.3L1472.5 1060.3L1472.9 1057.1L1473.5 1057.1L1473.9 1061.2L1474.5 1061.2L1474.9 1060.1L1475.5 1060.1L1475.9 1061.1L1476.5 1061.1L1476.9 1060.4L1477.5 1060.4L1477.9 1060.4L1478.5 1060.4L1478.8 1056.6L1479.4 1056.6L1479.8 1060.5L1480.4 1060.5L1480.8 1061.1L1481.4 1061.1L1481.8 1059.5L1482.4 1059.5L1482.8 1061.1L1483.4 1061.1L1483.8 1061.8L1484.4 1061.8L1484.8 1059.5L1485.4 1059.5L1485.8 1057.4L1486.4 1057.4L1486.8 1059.8L1487.4 1059.8L1487.8 1058.5L1488.4 1058.5L1488.8 1059.6L1489.4 1059.6L1489.8 1058.7L1490.4 1058.7L1490.8 1059.8L1491.4 1059.8L1491.8 1058.2L1492.4 1058.2L1492.8 1060.2L1493.4 1060.2L1493.8 1061.3L1494.4 1061.3L1494.8 1059.3L1495.4 1059.3L1495.8 1058.7L1496.4 1058.7L1496.8 1060.1L1497.4 1060.1L1497.8 1058.1L1498.4 1058.1L1498.8 1059.2L1499.4 1059.2L1499.8 1058.0L1500.4 1058.0L1500.8 1061.4L1501.4 1061.4L1501.8 1061.1L1502.4 1061.1L1502.8 1059.6L1503.4 1059.6L1503.7 1060.7L1504.3 1060.7L1504.7 1058.1L1505.3 1058.1L1505.7 1059.0L1506.3 1059.0L1506.7 1057.1L1507.3 1057.1L1507.7 1059.7L1508.3 1059.7L1508.7 1059.4L1509.3 1059.4L1509.7 1056.3L1510.3 1056.3L1510.7 1058.4L1511.3 1058.4L1511.7 1060.3L1512.3 1060.3L1512.7 1058.8L1513.3 1058.8L1513.7 1058.2L1514.3 1058.2L1514.7 1059.4L1515.3 1059.4L1515.7 1059.6L1516.3 1059.6L1516.7 1061.4L1517.3 1061.4L1517.7 1058.8L1518.3 1058.8L1518.7 1061.8L1519.3 1061.8L1519.7 1058.1L1520.3 1058.1L1520.7 1060.2L1521.3 1060.2L1521.7 1061.0L1522.3 1061.0L1522.7 1059.6L1523.3 1059.6L1523.7 1059.3L1524.3 1059.3L1524.7 1059.4L1525.3 1059.4L1525.7 1058.3L1526.3 1058.3L1526.7 1060.5L1527.3 1060.5L1527.6 1061.5L1528.2 1061.5L1528.6 1057.9L1529.2 1057.9L1529.6 1061.7L1530.2 1061.7L1530.6 1059.6L1531.2 1059.6L1531.6 1061.2L1532.2 1061.2L1532.6 1059.8L1533.2 1059.8L1533.6 1057.8L1534.2 1057.8L1534.6 1060.9L1535.2 1060.9L1535.6 1057.3L1536.2 1057.3L1536.6 1060.9L1537.2 1060.9L1537.6 1060.6L1538.2 1060.6L1538.6 1061.5L1539.2 1061.5L1539.6 1059.8L1540.2 1059.8L1540.6 1059.8L1541.2 1059.8L1541.6 1060.9L1542.2 1060.9L1542.6 1060.1L1543.2 1060.1L1543.6 1059.8L1544.2 1059.8L1544.6 1058.2L1545.2 1058.2L1545.6 1058.8L1546.2 1058.8L1546.6 1060.9L1547.2 1060.9L1547.6 1061.1L1548.2 1061.1L1548.6 1059.4L1549.2 1059.4L1549.6 1061.4L1550.2 1061.4L1550.6 1061.2L1551.2 1061.2L1551.6 1059.0L1552.2 1059.0L1552.5 1061.1L1553.1 1061.1L1553.5 1060.3L1554.1 1060.3L1554.5 1060.1L1555.1 1060.1L1555.5 1060.4L1556.1 1060.4L1556.5 1058.7L1557.1 1058.7L1557.5 1059.5L1558.1 1059.5L1558.5 1058.7L1559.1 1058.7L1559.5 1061.2L1560.1 1061.2L1560.5 1060.8L1561.1 1060.8L1561.5 1059.4L1562.1 1059.4L1562.5 1062.2L1563.1 1062.2L1563.5 1060.6L1564.1 1060.6L1564.5 1056.7L1565.1 1056.7L1565.5 1060.3L1566.1 1060.3L1566.5 1060.6L1567.1 1060.6L1567.5 1057.8L1568.1 1057.8L1568.5 1058.7L1569.1 1058.7L1569.5 1057.9L1570.1 1057.9L1570.5 1059.3L1571.1 1059.3L1571.5 1061.7L1572.1 1061.7L1572.5 1059.3L1573.1 1059.3L1573.5 1061.5L1574.1 1061.5L1574.5 1058.0L1575.1 1058.0L1575.5 1060.4L1576.1 1060.4L1576.4 1060.7L1577.0 1060.7L1577.4 1062.0L1578.0 1062.0L1578.4 1062.4L1579.0 1062.4L1579.4 1059.9L1580.0 1059.9L1580.4 1058.8L1581.0 1058.8L1581.4 1060.1L1582.0 1060.1L1582.4 1058.0L1583.0 1058.0L1583.4 1060.0L1584.0 1060.0L1584.4 1060.7L1585.0 1060.7L1585.4 1059.3L1586.0 1059.3L1586.4 1060.7L1587.0 1060.7L1587.4 1060.2L1588.0 1060.2L1588.4 1060.7L1589.0 1060.7L1589.4 1060.1L1590.0 1060.1L1590.4 1057.9L1591.0 1057.9L1591.4 1060.0L1592.0 1060.0L1592.4 1060.8L1593.0 1060.8L1593.4 1058.1L1594.0 1058.1L1594.4 1059.8L1595.0 1059.8L1595.4 1061.0L1596.0 1061.0L1596.4 1059.7L1597.0 1059.7L1597.4 1059.0L1598.0 1059.0L1598.4 1060.3L1599.0 1060.3L1599.4 1058.7L1600.0 1058.7L1600.4 1059.0L1601.0 1059.0L1601.3 1061.1L1601.9 1061.1L1602.3 1060.3L1602.9 1060.3L1603.3 1056.8L1603.9 1056.8L1604.3 1059.5L1604.9 1059.5L1605.3 1060.4L1605.9 1060.4L1606.3 1060.7L1606.9 1060.7L1607.3 1061.3L1607.9 1061.3L1608.3 1059.9L1608.9 1059.9L1609.3 1062.0L1609.9 1062.0L1610.3 1060.1L1610.9 1060.1L1611.3 1059.6L1611.9 1059.6L1612.3 1059.7L1612.9 1059.7L1613.3 1058.9L1613.9 1058.9L1614.3 1061.4L1614.9 1061.4L1615.3 1059.7L1615.9 1059.7L1616.3 1058.9L1616.9 1058.9L1617.3 1058.3L1617.9 1058.3L1618.3 1060.7L1618.9 1060.7L1619.3 1058.7L1619.9 1058.7L1620.3 1060.5L1620.9 1060.5L1621.3 1062.2L1621.9 1062.2L1622.3 1057.8L1622.9 1057.8L1623.3 1059.2L1623.9 1059.2L1624.3 1058.5L1624.9 1058.5L1625.2 1061.9L1625.8 1061.9L1626.2 1060.7L1626.8 1060.7L1627.2 1058.9L1627.8 1058.9L1628.2 1059.0L1628.8 1059.0L1629.2 1058.6L1629.8 1058.6L1630.2 1059.8L1630.8 1059.8L1631.2 1059.2L1631.8 1059.2L1632.2 1060.8L1632.8 1060.8L1633.2 1060.5L1633.8 1060.5L1634.2 1058.8L1634.8 1058.8L1635.2 1060.2L1635.8 1060.2L1636.2 1059.4L1636.8 1059.4L1637.2 1059.1L1637.8 1059.1L1638.2 1058.8L1638.8 1058.8L1639.2 1059.3L1639.8 1059.3L1640.2 1060.1L1640.8 1060.1L1641.2 1061.6L1641.8 1061.6L1642.2 1057.8L1642.8 1057.8L1643.2 1060.6L1643.8 1060.6L1644.2 1060.9L1644.8 1060.9L1645.2 1060.6L1645.8 1060.6L1646.2 1058.6L1646.8 1058.6L1647.2 1058.2L1647.8 1058.2L1648.2 1060.8L1648.8 1060.8L1649.2 1060.7L1649.8 1060.7L1650.1 1058.0L1650.7 1058.0L1651.1 1060.0L1651.7 1060.0L1652.1 1061.0L1652.7 1061.0L1653.1 1061.5L1653.7 1061.5L1654.1 1059.7L1654.7 1059.7L1655.1 1060.5L1655.7 1060.5L1656.1 1059.0L1656.7 1059.0L1657.1 1061.3L1657.7 1061.3L1658.1 1060.4L1658.7 1060.4L1659.1 1059.8L1659.7 1059.8L1660.1 1059.7L1660.7 1059.7L1661.1 1060.4L1661.7 1060.4L1662.1 1062.1L1662.7 1062.1L1663.1 1058.7L1663.7 1058.7L1664.1 1060.2L1664.7 1060.2L1665.1 1060.2L1665.7 1060.2L1666.1 1061.4L1666.7 1061.4L1667.1 1059.8L1667.7 1059.8L1668.1 1056.6L1668.7 1056.6L1669.1 1060.4L1669.7 1060.4L1670.1 1057.6L1670.7 1057.6L1671.1 1061.1L1671.7 1061.1L1672.1 1060.8L1672.7 1060.8L1673.1 1060.2L1673.7 1060.2L1674.0 1058.6L1674.6 1058.6L1675.0 1058.4L1675.6 1058.4L1676.0 1060.1L1676.6 1060.1L1677.0 1059.8L1677.6 1059.8L1678.0 1061.2L1678.6 1061.2L1679.0 1058.2L1679.6 1058.2L1680.0 1060.8L1680.6 1060.8L1681.0 1058.4L1681.6 1058.4L1682.0 1062.4L1682.6 1062.4L1683.0 1060.0L1683.6 1060.0L1684.0 1058.1L1684.6 1058.1L1685.0 1059.7L1685.6 1059.7L1686.0 1058.4L1686.6 1058.4L1687.0 1060.3L1687.6 1060.3L1688.0 1060.2L1688.6 1060.2L1689.0 1059.5L1689.6 1059.5L1690.0 1059.7L1690.6 1059.7L1691.0 1060.6L1691.6 1060.6L1692.0 1060.5L1692.6 1060.5L1693.0 1059.1L1693.6 1059.1L1694.0 1061.2L1694.6 1061.2L1695.0 1056.9L1695.6 1056.9L1696.0 1059.3L1696.6 1059.3L1697.0 1060.9L1697.6 1060.9L1698.0 1058.9L1698.6 1058.9L1698.9 1060.6L1699.5 1060.6L1699.9 1059.3L1700.5 1059.3L1700.9 1059.0L1701.5 1059.0L1701.9 1060.9L1702.5 1060.9L1702.9 1060.0L1703.5 1060.0L1703.9 1057.6L1704.5 1057.6L1704.9 1059.4L1705.5 1059.4L1705.9 1058.0L1706.5 1058.0L1706.9 1061.3L1707.5 1061.3L1707.9 1060.5L1708.5 1060.5L1708.9 1059.3L1709.5 1059.3L1709.9 1058.7L1710.5 1058.7L1710.9 1059.9L1711.5 1059.9L1711.9 1057.9L1712.5 1057.9L1712.9 1059.4L1713.5 1059.4L1713.9 1057.5L1714.5 1057.5L1714.9 1059.2L1715.5 1059.2L1715.9 1060.7L1716.5 1060.7L1716.9 1060.2L1717.5 1060.2L1717.9 1059.3L1718.5 1059.3L1718.9 1060.2L1719.5 1060.2L1719.9 1061.3L1720.5 1061.3L1720.9 1059.8L1721.5 1059.8L1721.9 1058.4L1722.5 1058.4L1722.8 1060.8L1723.4 1060.8L1723.8 1060.4L1724.4 1060.4L1724.8 1060.1L1725.4 1060.1L1725.8 1061.1L1726.4 1061.1L1726.8 1060.7L1727.4 1060.7L1727.8 1060.9L1728.4 1060.9L1728.8 1058.3L1729.4 1058.3L1729.8 1057.9L1730.4 1057.9L1730.8 1059.7L1731.4 1059.7L1731.8 1062.1L1732.4 1062.1L1732.8 1061.5L1733.4 1061.5L1733.8 1058.0L1734.4 1058.0L1734.8 1060.2L1735.4 1060.2L1735.8 1059.8L1736.4 1059.8L1736.8 1060.2L1737.4 1060.2L1737.8 1061.0L1738.4 1061.0L1738.8 1057.4L1739.4 1057.4L1739.8 1058.2L1740.4 1058.2L1740.8 1058.5L1741.4 1058.5L1741.8 1062.3L1742.4 1062.3L1742.8 1057.9L1743.4 1057.9L1743.8 1058.2L1744.4 1058.2L1744.8 1061.3L1745.4 1061.3L1745.8 1060.2L1746.4 1060.2L1746.7 1061.6L1747.3 1061.6L1747.7 1061.1L1748.3 1061.1L1748.7 1060.1L1749.3 1060.1L1749.7 1061.0L1750.3 1061.0L1750.7 1061.9L1751.3 1061.9L1751.7 1059.4L1752.3 1059.4L1752.7 1059.7L1753.3 1059.7L1753.7 1059.5L1754.3 1059.5L1754.7 1057.3L1755.3 1057.3L1755.7 1059.8L1756.3 1059.8L1756.7 1060.5L1757.3 1060.5L1757.7 1058.7L1758.3 1058.7L1758.7 1060.0L1759.3 1060.0L1759.7 1059.7L1760.3 1059.7L1760.7 1061.2L1761.3 1061.2L1761.7 1056.9L1762.3 1056.9L1762.7 1059.1L1763.3 1059.1L1763.7 1060.2L1764.3 1060.2L1764.7 1059.9L1765.3 1059.9L1765.7 1061.7L1766.3 1061.7L1766.7 1060.1L1767.3 1060.1L1767.7 1059.3L1768.3 1059.3L1768.7 1059.3L1769.3 1059.3L1769.7 1057.3L1770.3 1057.3L1770.7 1060.3L1771.3 1060.3L1771.6 1059.8L1772.2 1059.8L1772.6 1060.3L1773.2 1060.3L1773.6 1059.2L1774.2 1059.2L1774.6 1061.8L1775.2 1061.8L1775.6 1061.0L1776.2 1061.0L1776.6 1058.8L1777.2 1058.8L1777.6 1058.1L1778.2 1058.1L1778.6 1060.9L1779.2 1060.9L1779.6 1059.1L1780.2 1059.1L1780.6 1059.8L1781.2 1059.8L1781.6 1060.4L1782.2 1060.4L1782.6 1060.8L1783.2 1060.8L1783.6 1059.9L1784.2 1059.9L1784.6 1061.0L1785.2 1061.0L1785.6 1062.0L1786.2 1062.0L1786.6 1058.2L1787.2 1058.2L1787.6 1059.3L1788.2 1059.3L1788.6 1060.6L1789.2 1060.6L1789.6 1061.3L1790.2 1061.3L1790.6 1058.4L1791.2 1058.4L1791.6 1059.7L1792.2 1059.7L1792.6 1061.7L1793.2 1061.7L1793.6 1058.7L1794.2 1058.7L1794.6 1057.7L1795.2 1057.7L1795.5 1060.0L1796.1 1060.0L1796.5 1059.2L1797.1 1059.2L1797.5 1059.7L1798.1 1059.7L1798.5 1059.5L1799.1 1059.5L1799.5 1058.6L1800.1 1058.6L1800.5 1059.8L1801.1 1059.8L1801.5 1059.0L1802.1 1059.0L1802.5 1059.1L1803.1 1059.1L1803.5 1057.0L1804.1 1057.0L1804.5 1056.7L1805.1 1056.7L1805.5 1061.6L1806.1 1061.6L1806.5 1061.8L1807.1 1061.8L1807.5 1061.0L1808.1 1061.0L1808.5 1061.1L1809.1 1061.1L1809.5 1060.2L1810.1 1060.2L1810.5 1057.7L1811.1 1057.7L1811.5 1061.4L1812.1 1061.4L1812.5 1061.5L1813.1 1061.5L1813.5 1060.6L1814.1 1060.6L1814.5 1061.5L1815.1 1061.5L1815.5 1061.9L1816.1 1061.9L1816.5 1058.7L1817.1 1058.7L1817.5 1060.3L1818.1 1060.3L1818.5 1059.4L1819.1 1059.4L1819.5 1060.8L1820.1 1060.8L1820.4 1061.9L1821.0 1061.9L1821.4 1057.4L1822.0 1057.4L1822.4 1061.6L1823.0 1061.6L1823.4 1060.7L1824.0 1060.7L1824.4 1058.7L1825.0 1058.7L1825.4 1060.5L1826.0 1060.5L1826.4 1060.1L1827.0 1060.1L1827.4 1060.3L1828.0 1060.3L1828.4 1060.1L1829.0 1060.1L1829.4 1059.1L1830.0 1059.1L1830.4 1060.4L1831.0 1060.4L1831.4 1062.0L1832.0 1062.0L1832.4 1062.3L1833.0 1062.3L1833.4 1060.2L1834.0 1060.2L1834.4 1058.1L1835.0 1058.1L1835.4 1060.7L1836.0 1060.7L1836.4 1061.0L1837.0 1061.0L1837.4 1060.3L1838.0 1060.3L1838.4 1060.0L1839.0 1060.0L1839.4 1058.8L1840.0 1058.8L1840.4 1060.0L1841.0 1060.0L1841.4 1059.3L1842.0 1059.3L1842.4 1060.0L1843.0 1060.0L1843.4 1060.2L1844.0 1060.2L1844.3 1061.7L1844.9 1061.7L1845.3 1057.8L1845.9 1057.8L1846.3 1061.6L1846.9 1061.6L1847.3 1059.1L1847.9 1059.1L1848.3 1058.8L1848.9 1058.8L1849.3 1061.3L1849.9 1061.3L1850.3 1060.0L1850.9 1060.0L1851.3 1060.9L1851.9 1060.9L1852.3 1061.1L1852.9 1061.1L1853.3 1058.2L1853.9 1058.2L1854.3 1058.6L1854.9 1058.6L1855.3 1061.5L1855.9 1061.5L1856.3 1058.7L1856.9 1058.7L1857.3 1060.3L1857.9 1060.3L1858.3 1062.1L1858.9 1062.1L1859.3 1059.0L1859.9 1059.0L1860.3 1059.5L1860.9 1059.5L1861.3 1058.9L1861.9 1058.9L1862.3 1059.5L1862.9 1059.5L1863.3 1061.3L1863.9 1061.3L1864.3 1060.6L1864.9 1060.6L1865.3 1057.5L1865.9 1057.5L1866.3 1060.3L1866.9 1060.3L1867.3 1062.0L1867.9 1062.0L1868.3 1061.5L1868.9 1061.5L1869.2 1059.5L1869.8 1059.5L1870.2 1061.3L1870.8 1061.3L1871.2 1057.7L1871.8 1057.7L1872.2 1062.1L1872.8 1062.1L1873.2 1061.0L1873.8 1061.0L1874.2 1061.4L1874.8 1061.4L1875.2 1059.1L1875.8 1059.1L1876.2 1061.5L1876.8 1061.5L1877.2 1056.9L1877.8 1056.9L1878.2 1060.8L1878.8 1060.8L1879.2 1058.2L1879.8 1058.2L1880.2 1059.7L1880.8 1059.7L1881.2 1060.5L1881.8 1060.5L1882.2 1061.3L1882.8 1061.3L1883.2 1060.6L1883.8 1060.6L1884.2 1058.0L1884.8 1058.0L1885.2 1061.3L1885.8 1061.3L1886.2 1062.0L1886.8 1062.0L1887.2 1058.9L1887.8 1058.9L1888.2 1057.7L1888.8 1057.7L1889.2 1058.9L1889.8 1058.9L1890.2 1059.0L1890.8 1059.0L1891.2 1059.7L1891.8 1059.7L1892.2 1060.5L1892.8 1060.5L1893.1 1061.6L1893.7 1061.6L1894.1 1057.8L1894.7 1057.8L1895.1 1060.3L1895.7 1060.3L1896.1 1058.8L1896.7 1058.8L1897.1 1060.0L1897.7 1060.0L1898.1 1061.9L1898.7 1061.9L1899.1 1059.8L1899.7 1059.8L1900.1 1059.6L1900.7 1059.6L1901.1 1059.1L1901.7 1059.1L1902.1 1060.6L1902.7 1060.6L1903.1 1059.6L1903.7 1059.6L1904.1 1057.2L1904.7 1057.2L1905.1 1059.9L1905.7 1059.9L1906.1 1058.8L1906.7 1058.8L1907.1 1057.3L1907.7 1057.3L1908.1 1057.8L1908.7 1057.8L1909.1 1060.6L1909.7 1060.6L1910.1 1059.9L1910.7 1059.9L1911.1 1059.2L1911.7 1059.2L1912.1 1057.1L1912.7 1057.1L1913.1 1061.2L1913.7 1061.2L1914.1 1057.3L1914.7 1057.3L1915.1 1059.6L1915.7 1059.6L1916.1 1059.4L1916.7 1059.4L1917.1 1057.3L1917.7 1057.3L1918.0 1060.0L1918.6 1060.0L1919.0 1060.0L1919.6 1060.0L1920.0 1060.1L1920.6 1060.1L1921.0 1059.2L1921.6 1059.2L1922.0 1060.5L1922.6 1060.5L1923.0 1061.2L1923.6 1061.2L1924.0 1058.6L1924.6 1058.6L1925.0 1057.9L1925.6 1057.9L1926.0 1059.6L1926.6 1059.6L1927.0 1058.7L1927.6 1058.7L1928.0 1059.0L1928.6 1059.0L1929.0 1061.3L1929.6 1061.3L1930.0 1060.1L1930.6 1060.1L1931.0 1059.3L1931.6 1059.3L1932.0 1057.9L1932.6 1057.9L1933.0 1059.6L1933.6 1059.6L1934.0 1058.4L1934.6 1058.4L1935.0 1059.3L1935.6 1059.3L1936.0 1060.0L1936.6 1060.0L1937.0 1061.8L1937.6 1061.8L1938.0 1061.0L1938.6 1061.0L1939.0 1061.7L1939.6 1061.7L1940.0 1060.0L1940.6 1060.0L1941.0 1061.4L1941.6 1061.4L1941.9 1057.8L1942.5 1057.8L1942.9 1060.8L1943.5 1060.8L1943.9 1056.8L1944.5 1056.8L1944.9 1060.6L1945.5 1060.6L1945.9 1061.4L1946.5 1061.4L1946.9 1061.3L1947.5 1061.3L1947.9 1060.3L1948.5 1060.3L1948.9 1058.9L1949.5 1058.9L1949.9 1059.4L1950.5 1059.4L1950.9 1060.9L1951.5 1060.9L1951.9 1061.0L1952.5 1061.0L1952.9 1061.9L1953.5 1061.9L1953.9 1060.8L1954.5 1060.8L1954.9 1060.9L1955.5 1060.9L1955.9 1061.2L1956.5 1061.2L1956.9 1059.6L1957.5 1059.6L1957.9 1059.2L1958.5 1059.2L1958.9 1057.6L1959.5 1057.6L1959.9 1061.1L1960.5 1061.1L1960.9 1058.6L1961.5 1058.6L1961.9 1059.6L1962.5 1059.6L1962.9 1056.9L1963.5 1056.9L1963.9 1061.3L1964.5 1061.3L1964.9 1058.3L1965.5 1058.3L1965.9 1058.8L1966.5 1058.8L1966.8 1060.9L1967.4 1060.9L1967.8 1058.0L1968.4 1058.0L1968.8 1060.5L1969.4 1060.5L1969.8 1060.0L1970.4 1060.0L1970.8 1061.0L1971.4 1061.0L1971.8 1059.2L1972.4 1059.2L1972.8 1058.8L1973.4 1058.8L1973.8 1060.9L1974.4 1060.9L1974.8 1059.4L1975.4 1059.4L1975.8 1060.8L1976.4 1060.8L1976.8 1058.7L1977.4 1058.7L1977.8 1057.6L1978.4 1057.6L1978.8 1058.5L1979.4 1058.5L1979.8 1061.8L1980.4 1061.8L1980.8 1060.8L1981.4 1060.8L1981.8 1059.6L1982.4 1059.6L1982.8 1060.4L1983.4 1060.4L1983.8 1057.8L1984.4 1057.8L1984.8 1060.9L1985.4 1060.9L1985.8 1060.2L1986.4 1060.2L1986.8 1061.8L1987.4 1061.8L1987.8 1059.9L1988.4 1059.9L1988.8 1060.1L1989.4 1060.1L1989.8 1061.1L1990.4 1061.1L1990.7 1058.5L1991.3 1058.5L1991.7 1061.0L1992.3 1061.0L1992.7 1059.3L1993.3 1059.3L1993.7 1059.6L1994.3 1059.6L1994.7 1061.9L1995.3 1061.9L1995.7 1060.8L1996.3 1060.8L1996.7 1059.0L1997.3 1059.0L1997.7 1061.5L1998.3 1061.5L1998.7 1061.6L1999.3 1061.6L1999.7 1060.3L2000.3 1060.3L2000.7 1060.9L2001.3 1060.9L2001.7 1058.9L2002.3 1058.9L2002.7 1059.4L2003.3 1059.4L2003.7 1060.2L2004.3 1060.2L2004.7 1059.6L2005.3 1059.6L2005.7 1060.8L2006.3 1060.8L2006.7 1057.5L2007.3 1057.5L2007.7 1058.7L2008.3 1058.7L2008.7 1058.7L2009.3 1058.7L2009.7 1060.6L2010.3 1060.6L2010.7 1060.3L2011.3 1060.3L2011.7 1059.4L2012.3 1059.4L2012.7 1060.6L2013.3 1060.6L2013.7 1061.7L2014.3 1061.7L2014.7 1060.4L2015.3 1060.4L2015.6 1060.0L2016.2 1060.0L2016.6 1058.6L2017.2 1058.6L2017.6 1058.5L2018.2 1058.5L2018.6 1058.8L2019.2 1058.8L2019.6 1060.1L2020.2 1060.1L2020.6 1058.6L2021.2 1058.6L2021.6 1058.5L2022.2 1058.5L2022.6 1060.0L2023.2 1060.0L2023.6 1060.1L2024.2 1060.1L2024.6 1061.2L2025.2 1061.2L2025.6 1059.9L2026.2 1059.9L2026.6 1060.1L2027.2 1060.1L2027.6 1060.6L2028.2 1060.6L2028.6 1062.0L2029.2 1062.0L2029.6 1060.4L2030.2 1060.4L2030.6 1061.9L2031.2 1061.9L2031.6 1059.9L2032.2 1059.9L2032.6 1058.4L2033.2 1058.4L2033.6 1058.9L2034.2 1058.9L2034.6 1061.0L2035.2 1061.0L2035.6 1057.2L2036.2 1057.2L2036.6 1061.1L2037.2 1061.1L2037.6 1059.2L2038.2 1059.2L2038.6 1060.0L2039.2 1060.0L2039.5 1060.3L2040.1 1060.3L2040.5 1058.7L2041.1 1058.7L2041.5 1060.8L2042.1 1060.8L2042.5 1060.5L2043.1 1060.5L2043.5 1062.2L2044.1 1062.2L2044.5 1060.3L2045.1 1060.3L2045.5 1058.4L2046.1 1058.4L2046.5 1059.2L2047.1 1059.2L2047.5 1057.5L2048.1 1057.5L2048.5 1061.3L2049.1 1061.3L2049.5 1059.7L2050.1 1059.7L2050.5 1059.0L2051.1 1059.0L2051.5 1058.4L2052.1 1058.4L2052.5 1060.2L2053.1 1060.2L2053.5 1059.4L2054.1 1059.4L2054.5 1059.9L2055.1 1059.9L2055.5 1057.5L2056.1 1057.5L2056.5 1061.4L2057.1 1061.4L2057.5 1058.4L2058.1 1058.4L2058.5 1061.0L2059.1 1061.0L2059.5 1061.4L2060.1 1061.4L2060.5 1060.2L2061.1 1060.2L2061.5 1060.9L2062.1 1060.9L2062.5 1057.3L2063.1 1057.3L2063.5 1061.3L2064.1 1061.3L2064.4 1060.0L2065.0 1060.0L2065.4 1062.1L2066.0 1062.1L2066.4 1060.7L2067.0 1060.7L2067.4 1061.4L2068.0 1061.4L2068.4 1058.5L2069.0 1058.5L2069.4 1058.7L2070.0 1058.7L2070.4 1056.8L2071.0 1056.8L2071.4 1061.8L2072.0 1061.8L2072.4 1056.5L2073.0 1056.5L2073.4 1057.2L2074.0 1057.2L2074.4 1060.8L2075.0 1060.8L2075.4 1057.9L2076.0 1057.9L2076.4 1061.3L2077.0 1061.3L2077.4 1060.4L2078.0 1060.4L2078.4 1060.4L2079.0 1060.4L2079.4 1058.9L2080.0 1058.9L2080.4 1060.6L2081.0 1060.6L2081.4 1061.9L2082.0 1061.9L2082.4 1061.0L2083.0 1061.0L2083.4 1057.6L2084.0 1057.6L2084.4 1059.8L2085.0 1059.8L2085.4 1060.5L2086.0 1060.5L2086.4 1061.0L2087.0 1061.0L2087.4 1060.2L2088.0 1060.2L2088.3 1061.2L2088.9 1061.2L2089.3 1058.6L2089.9 1058.6L2090.3 1057.9L2090.9 1057.9L2091.3 1059.6L2091.9 1059.6L2092.3 1061.1L2092.9 1061.1L2093.3 1059.2L2093.9 1059.2L2094.3 1057.8L2094.9 1057.8L2095.3 1059.5L2095.9 1059.5L2096.3 1059.2L2096.9 1059.2L2097.3 1059.7L2097.9 1059.7L2098.3 1056.8L2098.9 1056.8L2099.3 1059.7L2099.9 1059.7L2100.3 1062.0L2100.9 1062.0L2101.3 1059.9L2101.9 1059.9L2102.3 1060.4L2102.9 1060.4L2103.3 1061.6L2103.9 1061.6L2104.3 1060.9L2104.9 1060.9L2105.3 1061.5L2105.9 1061.5L2106.3 1058.7L2106.9 1058.7L2107.3 1058.9L2107.9 1058.9L2108.3 1058.5L2108.9 1058.5L2109.3 1062.1L2109.9 1062.1L2110.3 1058.1L2110.9 1058.1L2111.3 1062.0L2111.9 1062.0L2112.2 1061.0L2112.8 1061.0L2113.2 1057.6L2113.8 1057.6L2114.2 1060.0L2114.8 1060.0L2115.2 1059.9L2115.8 1059.9L2116.2 1060.7L2116.8 1060.7L2117.2 1058.5L2117.8 1058.5L2118.2 1059.6L2118.8 1059.6L2119.2 1058.7L2119.8 1058.7L2120.2 1061.9L2120.8 1061.9L2121.2 1059.8L2121.8 1059.8L2122.2 1058.0L2122.8 1058.0L2123.2 1060.1L2123.8 1060.1L2124.2 1060.0L2124.8 1060.0L2125.2 1059.8L2125.8 1059.8L2126.2 1060.6L2126.8 1060.6L2127.2 1057.5L2127.8 1057.5L2128.2 1058.0L2128.8 1058.0L2129.2 1060.6L2129.8 1060.6L2130.2 1061.0L2130.8 1061.0L2131.2 1060.7L2131.8 1060.7L2132.2 1059.9L2132.8 1059.9L2133.2 1060.5L2133.8 1060.5L2134.2 1061.5L2134.8 1061.5L2135.2 1060.8L2135.8 1060.8L2136.2 1059.1L2136.8 1059.1L2137.1 1057.4L2137.7 1057.4L2138.1 1059.0L2138.7 1059.0L2139.1 1061.3L2139.7 1061.3L2140.1 1061.7L2140.7 1061.7L2141.1 1061.6L2141.7 1061.6L2142.1 1060.8L2142.7 1060.8L2143.1 1061.6L2143.7 1061.6L2144.1 1059.4L2144.7 1059.4L2145.1 1058.3L2145.7 1058.3L2146.1 1058.6L2146.7 1058.6L2147.1 1061.8L2147.7 1061.8L2148.1 1061.6L2148.7 1061.6L2149.1 1058.1L2149.7 1058.1L2150.1 1058.9L2150.7 1058.9L2151.1 1062.2L2151.7 1062.2L2152.1 1062.1L2152.7 1062.1L2153.1 1058.7L2153.7 1058.7L2154.1 1058.8L2154.7 1058.8L2155.1 1060.6L2155.7 1060.6L2156.1 1060.9L2156.7 1060.9L2157.1 1060.4L2157.7 1060.4L2158.1 1059.1L2158.7 1059.1L2159.1 1061.4L2159.7 1061.4L2160.1 1061.0L2160.7 1061.0L2161.0 1061.4L2161.6 1061.4L2162.0 1057.7L2162.6 1057.7L2163.0 1059.5L2163.6 1059.5L2164.0 1057.2L2164.6 1057.2L2165.0 1060.0L2165.6 1060.0L2166.0 1056.4L2166.6 1056.4L2167.0 1062.3L2167.6 1062.3L2168.0 1060.2L2168.6 1060.2L2169.0 1061.2L2169.6 1061.2L2170.0 1061.3L2170.6 1061.3L2171.0 1059.3L2171.6 1059.3L2172.0 1058.6L2172.6 1058.6L2173.0 1060.1L2173.6 1060.1L2174.0 1058.7L2174.6 1058.7L2175.0 1060.4L2175.6 1060.4L2176.0 1059.0L2176.6 1059.0L2177.0 1058.3L2177.6 1058.3L2178.0 1057.4L2178.6 1057.4L2179.0 1060.9L2179.6 1060.9L2180.0 1060.2L2180.6 1060.2L2181.0 1061.5L2181.6 1061.5L2182.0 1059.9L2182.6 1059.9L2183.0 1060.9L2183.6 1060.9L2184.0 1060.6L2184.6 1060.6L2185.0 1060.4L2185.6 1060.4L2185.9 1059.9L2186.5 1059.9L2186.9 1060.8L2187.5 1060.8L2187.9 1061.1L2188.5 1061.1L2188.9 1058.8L2189.5 1058.8L2189.9 1060.4L2190.5 1060.4L2190.9 1060.0L2191.5 1060.0L2191.9 1060.2L2192.5 1060.2L2192.9 1058.7L2193.5 1058.7L2193.9 1061.4L2194.5 1061.4L2194.9 1060.2L2195.5 1060.2L2195.9 1059.2L2196.5 1059.2L2196.9 1061.4L2197.5 1061.4L2197.9 1059.9L2198.5 1059.9L2198.9 1060.4L2199.5 1060.4L2199.9 1057.5L2200.5 1057.5L2200.9 1062.4L2201.5 1062.4L2201.9 1060.2L2202.5 1060.2L2202.9 1061.2L2203.5 1061.2L2203.9 1059.9L2204.5 1059.9L2204.9 1058.6L2205.5 1058.6L2205.9 1060.4L2206.5 1060.4L2206.9 1059.0L2207.5 1059.0L2207.9 1060.7L2208.5 1060.7L2208.9 1060.4L2209.5 1060.4L2209.8 1061.6L2210.4 1061.6L2210.8 1061.2L2211.4 1061.2L2211.8 1061.3L2212.4 1061.3L2212.8 1060.5L2213.4 1060.5L2213.8 1058.7L2214.4 1058.7L2214.8 1061.1L2215.4 1061.1L2215.8 1059.2L2216.4 1059.2L2216.8 1059.1L2217.4 1059.1L2217.8 1058.7L2218.4 1058.7L2218.8 1062.2L2219.4 1062.2L2219.8 1060.9L2220.4 1060.9L2220.8 1059.0L2221.4 1059.0L2221.8 1059.0L2222.4 1059.0L2222.8 1061.4L2223.4 1061.4L2223.8 1059.8L2224.4 1059.8L2224.8 1056.5L2225.4 1056.5L2225.8 1060.8L2226.4 1060.8L2226.8 1057.0L2227.4 1057.0L2227.8 1061.1L2228.4 1061.1L2228.8 1057.4L2229.4 1057.4L2229.8 1061.6L2230.4 1061.6L2230.8 1059.0L2231.4 1059.0L2231.8 1060.2L2232.4 1060.2L2232.8 1058.9L2233.4 1058.9L2233.8 1059.0L2234.4 1059.0L2234.7 1059.9L2235.3 1059.9L2235.7 1059.6L2236.3 1059.6L2236.7 1056.9L2237.3 1056.9L2237.7 1059.6L2238.3 1059.6L2238.7 1060.0L2239.3 1060.0L2239.7 1060.7L2240.3 1060.7L2240.7 1057.6L2241.3 1057.6L2241.7 1061.3L2242.3 1061.3L2242.7 1056.8L2243.3 1056.8L2243.7 1060.7L2244.3 1060.7L2244.7 1058.1L2245.3 1058.1L2245.7 1061.9L2246.3 1061.9L2246.7 1061.3L2247.3 1061.3L2247.7 1060.8L2248.3 1060.8L2248.7 1056.8L2249.3 1056.8L2249.7 1059.6L2250.3 1059.6L2250.7 1056.9L2251.3 1056.9L2251.7 1060.7L2252.3 1060.7L2252.7 1059.4L2253.3 1059.4L2253.7 1056.9L2254.3 1056.9L2254.7 1059.2L2255.3 1059.2L2255.7 1060.7L2256.3 1060.7L2256.7 1060.3L2257.3 1060.3L2257.7 1060.8L2258.3 1060.8L2258.6 1059.5L2259.2 1059.5L2259.6 1056.8L2260.2 1056.8L2260.6 1058.7L2261.2 1058.7L2261.6 1059.3L2262.2 1059.3L2262.6 1057.4L2263.2 1057.4L2263.6 1061.3L2264.2 1061.3L2264.6 1057.1L2265.2 1057.1L2265.6 1058.4L2266.2 1058.4L2266.6 1061.0L2267.2 1061.0L2267.6 1060.1L2268.2 1060.1L2268.6 1059.7L2269.2 1059.7L2269.6 1060.4L2270.2 1060.4L2270.6 1057.8L2271.2 1057.8L2271.6 1060.4L2272.2 1060.4L2272.6 1060.0L2273.2 1060.0L2273.6 1057.3L2274.2 1057.3L2274.6 1060.9L2275.2 1060.9L2275.6 1057.7L2276.2 1057.7L2276.6 1057.5L2277.2 1057.5L2277.6 1061.2L2278.2 1061.2L2278.6 1059.8L2279.2 1059.8L2279.6 1061.0L2280.2 1061.0L2280.6 1061.2L2281.2 1061.2L2281.6 1057.0L2282.2 1057.0L2282.6 1060.4L2283.2 1060.4L2283.5 1057.4L2284.1 1057.4L2284.5 1060.1L2285.1 1060.1L2285.5 1061.2L2286.1 1061.2L2286.5 1061.0L2287.1 1061.0L2287.5 1059.9L2288.1 1059.9L2288.5 1059.9L2289.1 1059.9L2289.5 1061.5L2290.1 1061.5L2290.5 1061.3L2291.1 1061.3L2291.5 1061.0L2292.1 1061.0L2292.5 1059.2L2293.1 1059.2L2293.5 1062.3L2294.1 1062.3L2294.5 1060.4L2295.1 1060.4L2295.5 1059.0L2296.1 1059.0L2296.5 1059.1L2297.1 1059.1L2297.5 1058.8L2298.1 1058.8L2298.5 1057.1L2299.1 1057.1L2299.5 1058.1L2300.1 1058.1L2300.5 1060.9L2301.1 1060.9L2301.5 1060.6L2302.1 1060.6L2302.5 1059.4L2303.1 1059.4L2303.5 1057.9L2304.1 1057.9L2304.5 1060.2L2305.1 1060.2L2305.5 1060.8L2306.1 1060.8L2306.5 1060.2L2307.1 1060.2L2307.4 1061.7L2308.0 1061.7L2308.4 1058.8L2309.0 1058.8L2309.4 1059.1L2310.0 1059.1L2310.4 1058.5L2311.0 1058.5L2311.4 1060.6L2312.0 1060.6L2312.4 1058.9L2313.0 1058.9L2313.4 1060.0L2314.0 1060.0L2314.4 1060.1L2315.0 1060.1L2315.4 1060.8L2316.0 1060.8L2316.4 1061.1L2317.0 1061.1L2317.4 1059.5L2318.0 1059.5L2318.4 1057.3L2319.0 1057.3L2319.4 1061.7L2320.0 1061.7L2320.4 1059.7L2321.0 1059.7L2321.4 1058.5L2322.0 1058.5L2322.4 1058.7L2323.0 1058.7L2323.4 1059.7L2324.0 1059.7L2324.4 1060.1L2325.0 1060.1L2325.4 1060.8L2326.0 1060.8L2326.4 1057.2L2327.0 1057.2L2327.4 1061.1L2328.0 1061.1L2328.4 1058.5L2329.0 1058.5L2329.4 1058.7L2330.0 1058.7L2330.4 1061.6L2331.0 1061.6L2331.4 1056.7L2332.0 1056.7L2332.3 1058.8L2332.9 1058.8L2333.3 1058.6L2333.9 1058.6L2334.3 1060.2L2334.9 1060.2L2335.3 1059.3L2335.9 1059.3L2336.3 1061.6L2336.9 1061.6L2337.3 1060.2L2337.9 1060.2L2338.3 1059.5L2338.9 1059.5L2339.3 1061.1L2339.9 1061.1L2340.3 1060.1L2340.9 1060.1L2341.3 1061.1L2341.9 1061.1L2342.3 1058.1L2342.9 1058.1L2343.3 1059.4L2343.9 1059.4L2344.3 1060.1L2344.9 1060.1L2345.3 1060.5L2345.9 1060.5L2346.3 1058.1L2346.9 1058.1L2347.3 1059.5L2347.9 1059.5" stroke="#808080" stroke-opacity="0.9" stroke-width="2.08" fill="none" stroke-linejoin="round"/>
<path d="M321.05 1062.50V76.50" stroke="#1f77b4" stroke-width="8.33" stroke-dasharray="30.83 13.33" fill="none"/>
<path d="M175.5 1057.5L175.9 1057.0L176.4 1056.4L176.8 1055.9L177.3 1055.4L177.8 1055.0L178.3 1054.5L178.7 1054.0L179.2 1053.6L179.7 1053.1L180.3 1052.7L180.8 1052.2L181.3 1051.8L181.9 1051.4L182.4 1051.0L182.9 1050.7L183.5 1050.3L184.1 1049.9L184.6 1049.6L185.2 1049.2L185.8 1048.9L186.4 1048.6L187.0 1048.2L187.6 1047.9L188.2 1047.6L188.8 1047.4L189.4 1047.1L190.0 1046.8L190.6 1046.6L191.3 1046.3L191.9 1046.1L192.5 1045.9L193.2 1045.6L193.8 1045.4L194.4 1045.2L195.1 1045.0L195.7 1044.8L196.4 1044.7L197.0 1044.5L197.7 1044.4L198.3 1044.2L199.0 1044.1L199.6 1043.9L200.3 1043.8L201.0 1043.7L201.6 1043.6L202.3 1043.5L202.9 1043.4L203.6 1043.3L204.3 1043.3L204.9 1043.2L205.6 1043.1L206.2 1043.1L206.9 1043.0L207.5 1043.0L208.2 1043.0L208.9 1043.0L209.5 1042.9L210.2 1042.9L210.8 1042.9L211.5 1042.9L212.2 1042.9L212.8 1042.9L213.5 1042.9L214.2 1042.9L214.9 1042.9L215.5 1042.9L216.2 1042.9L216.9 1042.9L217.6 1042.9L218.3 1042.9L219.0 1042.9L219.7 1042.9L220.4 1042.9L221.1 1042.9L221.8 1042.8L222.4 1042.8L223.1 1042.7L223.8 1042.7L224.5 1042.6L225.1 1042.4L225.7 1042.3L226.4 1042.1L227.0 1041.9L227.6 1041.7L228.1 1041.5L228.7 1041.2L229.2 1040.9L229.8 1040.5L230.3 1040.2L230.8 1039.8L231.3 1039.4L231.8 1039.0L232.2 1038.6L232.7 1038.1L233.2 1037.7L233.6 1037.2L234.1 1036.7L234.5 1036.2L234.9 1035.7L235.4 1035.2L235.8 1034.6L236.2 1034.1L236.7 1033.6L237.1 1033.1L237.5 1032.5L238.0 1032.0L238.4 1031.5L238.8 1030.9L239.3 1030.4L239.7 1029.9L240.2 1029.4L240.7 1028.9L241.2 1028.4L241.6 1027.9L242.1 1027.4L242.6 1026.9L243.1 1026.5L243.6 1026.0L244.2 1025.6L244.7 1025.1L245.2 1024.7L245.7 1024.2L246.2 1023.8L246.7 1023.3L247.2 1022.9L247.7 1022.4L248.2 1022.0L248.7 1021.5L249.2 1021.0L249.7 1020.6L250.2 1020.1L250.7 1019.6L251.1 1019.2L251.6 1018.7L252.1 1018.2L252.5 1017.7L253.0 1017.2L253.4 1016.7L253.9 1016.2L254.3 1015.7L254.8 1015.2L255.2 1014.7L255.6 1014.2L256.0 1013.7L256.5 1013.2L256.9 1012.7L257.3 1012.2L257.7 1011.7L258.1 1011.1L258.5 1010.6L258.9 1010.1L259.3 1009.6L259.7 1009.0L260.0 1008.5L260.4 1008.0L260.8 1007.4L261.2 1006.9L261.5 1006.3L261.9 1005.8L262.3 1005.2L262.6 1004.7L263.0 1004.1L263.3 1003.6L263.7 1003.0L264.0 1002.4L264.3 1001.9L264.7 1001.3L265.0 1000.7L265.3 1000.2L265.6 999.6L266.0 999.0L266.3 998.4L266.6 997.8L266.9 997.3L267.2 996.7L267.5 996.1L267.8 995.5L268.1 994.9L268.4 994.3L268.7 993.7L269.0 993.1L269.2 992.5L269.5 991.9L269.8 991.3L270.1 990.7L270.3 990.1L270.6 989.5L270.9 988.9L271.1 988.3L271.4 987.7L271.6 987.1L271.9 986.4L272.1 985.8L272.4 985.2L272.6 984.6L272.9 984.0L273.1 983.3L273.4 982.7L273.6 982.1L273.8 981.5L274.0 980.8L274.3 980.2L274.5 979.6L274.7 978.9L274.9 978.3L275.1 977.7L275.4 977.0L275.6 976.4L275.8 975.8L276.0 975.1L276.2 974.5L276.4 973.8L276.6 973.2L276.8 972.6L277.0 971.9L277.2 971.3L277.4 970.6L277.6 970.0L277.7 969.3L277.9 968.7L278.1 968.0L278.3 967.4L278.5 966.7L278.6 966.1L278.8 965.4L279.0 964.8L279.2 964.1L279.3 963.5L279.5 962.8L279.7 962.2L279.8 961.5L280.0 960.8L280.2 960.2L280.3 959.5L280.5 958.9L280.6 958.2L280.8 957.6L280.9 956.9L281.1 956.2L281.2 955.6L281.4 954.9L281.5 954.3L281.7 953.6L281.8 952.9L282.0 952.3L282.1 951.6L282.3 951.0L282.4 950.3L282.5 949.6L282.7 949.0L282.8 948.3L283.0 947.7L283.1 947.0L283.2 946.3L283.4 945.7L283.5 945.0L283.6 944.4L283.7 943.7L283.9 943.0L284.0 942.4L284.1 941.7L284.3 941.1L284.4 940.4L284.5 939.7L284.6 939.1L284.8 938.4L284.9 937.8L285.0 937.1L285.1 936.5L285.3 935.8L285.4 935.1L285.5 934.5L285.6 933.8L285.7 933.2L285.9 932.5L286.0 931.9L286.1 931.2L286.2 930.6L286.3 929.9L286.5 929.3L286.6 928.6L286.7 927.9L286.8 927.3L286.9 926.6L287.0 926.0L287.2 925.3L287.3 924.7L287.4 924.0L287.5 923.4L287.6 922.7L287.7 922.1L287.9 921.4L288.0 920.8L288.1 920.1L288.2 919.5L288.3 918.8L288.4 918.2L288.5 917.5L288.7 916.8L288.8 916.2L288.9 915.5L289.0 914.9L289.1 914.2L289.3 913.6L289.4 912.9L289.5 912.3L289.6 911.6L289.7 911.0L289.8 910.3L290.0 909.7L290.1 909.0L290.2 908.4L290.3 907.7L290.5 907.1L290.6 906.4L290.7 905.8L290.8 905.1L290.9 904.5L291.1 903.8L291.2 903.2L291.3 902.5L291.5 901.9L291.6 901.2L291.7 900.6L291.8 899.9L292.0 899.3L292.1 898.6L292.2 898.0L292.4 897.3L292.5 896.7L292.6 896.0L292.8 895.4L292.9 894.7L293.0 894.1L293.2 893.4L293.3 892.8L293.5 892.1L293.6 891.5L293.7 890.8L293.9 890.2L294.0 889.5L294.2 888.9L294.3 888.2L294.5 887.6L294.6 886.9L294.8 886.3L294.9 885.6L295.0 885.0L295.2 884.3L295.3 883.7L295.5 883.0L295.6 882.3L295.8 881.7L295.9 881.0L296.1 880.4L296.2 879.7L296.4 879.1L296.5 878.4L296.7 877.8L296.8 877.1L297.0 876.5L297.1 875.8L297.2 875.2L297.4 874.5L297.5 873.9L297.7 873.2L297.8 872.5L298.0 871.9L298.1 871.2L298.2 870.6L298.4 869.9L298.5 869.3L298.7 868.6L298.8 868.0L298.9 867.3L299.1 866.7L299.2 866.0L299.3 865.3L299.5 864.7L299.6 864.0L299.7 863.4L299.9 862.7L300.0 862.1L300.1 861.4L300.2 860.7L300.4 860.1L300.5 859.4L300.6 858.8L300.8 858.1L300.9 857.5L301.0 856.8L301.1 856.1L301.2 855.5L301.4 854.8L301.5 854.2L301.6 853.5L301.7 852.8L301.9 852.2L302.0 851.5L302.1 850.9L302.2 850.2L302.3 849.6L302.4 848.9L302.6 848.2L302.7 847.6L302.8 846.9L302.9 846.3L303.0 845.6L303.1 844.9L303.3 844.3L303.4 843.6L303.5 843.0L303.6 842.3L303.7 841.6L303.8 841.0L303.9 840.3L304.1 839.7L304.2 839.0L304.3 838.3L304.4 837.7L304.5 837.0L304.6 836.4L304.7 835.7L304.8 835.1L304.9 834.4L305.1 833.7L305.2 833.1L305.3 832.4L305.4 831.8L305.5 831.1L305.6 830.4L305.7 829.8L305.8 829.1L305.9 828.5L306.1 827.8L306.2 827.1L306.3 826.5L306.4 825.8L306.5 825.2L306.6 824.5L306.7 823.9L306.8 823.2L306.9 822.5L307.0 821.9L307.2 821.2L307.3 820.6L307.4 819.9L307.5 819.3L307.6 818.6L307.7 817.9L307.8 817.3L307.9 816.6L308.1 816.0L308.2 815.3L308.3 814.7L308.4 814.0L308.5 813.3L308.6 812.7L308.7 812.0L308.8 811.4L309.0 810.7L309.1 810.1L309.2 809.4L309.3 808.8L309.4 808.1L309.5 807.5L309.7 806.8L309.8 806.1L309.9 805.5L310.0 804.8L310.1 804.2L310.3 803.5L310.4 802.9L310.5 802.2L310.6 801.6L310.7 800.9L310.9 800.3L311.0 799.6L311.1 799.0L311.2 798.3L311.4 797.7L311.5 797.0L311.6 796.4L311.7 795.7L311.8 795.0L320.8 763.0L330.0 792.0L330.1 792.3L330.3 792.9L330.4 793.5L330.6 794.2L330.8 794.8L330.9 795.4L331.1 796.1L331.3 796.7L331.4 797.3L331.6 798.0L331.7 798.6L331.9 799.2L332.0 799.9L332.2 800.5L332.3 801.2L332.5 801.8L332.6 802.5L332.8 803.1L332.9 803.8L333.0 804.4L333.2 805.0L333.3 805.7L333.5 806.4L333.6 807.0L333.7 807.7L333.9 808.3L334.0 809.0L334.1 809.6L334.3 810.3L334.4 810.9L334.5 811.6L334.6 812.3L334.8 812.9L334.9 813.6L335.0 814.2L335.1 814.9L335.3 815.6L335.4 816.2L335.5 816.9L335.6 817.5L335.8 818.2L335.9 818.9L336.0 819.5L336.1 820.2L336.3 820.9L336.4 821.5L336.5 822.2L336.6 822.9L336.7 823.5L336.9 824.2L337.0 824.8L337.1 825.5L337.2 826.2L337.3 826.8L337.5 827.5L337.6 828.2L337.7 828.8L337.8 829.5L337.9 830.1L338.1 830.8L338.2 831.5L338.3 832.1L338.4 832.8L338.6 833.4L338.7 834.1L338.8 834.8L338.9 835.4L339.1 836.1L339.2 836.7L339.3 837.4L339.5 838.1L339.6 838.7L339.7 839.4L339.9 840.0L340.0 840.7L340.2 841.3L340.3 842.0L340.4 842.6L340.6 843.3L340.7 843.9L340.9 844.6L341.0 845.2L341.2 845.9L341.3 846.5L341.5 847.2L341.6 847.8L341.8 848.5L342.0 849.1L342.1 849.7L342.3 850.4L342.5 851.0L342.6 851.7L342.8 852.3L343.0 852.9L343.2 853.6L343.4 854.2L343.5 854.9L343.7 855.5L343.9 856.1L344.1 856.8L344.3 857.4L344.5 858.0L344.7 858.7L344.9 859.3L345.1 859.9L345.4 860.5L345.6 861.2L345.8 861.8L346.0 862.4L346.3 863.0L346.5 863.7L346.7 864.3L347.0 864.9L347.2 865.5L347.5 866.1L347.7 866.8L348.0 867.4L348.2 868.0L348.5 868.6L348.8 869.2L349.1 869.8L349.4 870.4L349.7 871.0L350.0 871.6L350.3 872.2L350.6 872.7L350.9 873.3L351.3 873.9L351.6 874.5L351.9 875.0L352.3 875.6L352.6 876.2L353.0 876.7L353.4 877.3L353.7 877.8L354.1 878.4L354.5 878.9L354.9 879.5L355.3 880.0L355.6 880.5L356.0 881.1L356.4 881.6L356.8 882.2L357.2 882.7L357.6 883.2L358.0 883.8L358.5 884.3L358.9 884.8L359.3 885.3L359.7 885.9L360.1 886.4L360.5 886.9L360.9 887.5L361.3 888.0L361.8 888.5L362.2 889.0L362.6 889.6L363.0 890.1L363.4 890.6L363.8 891.1L364.2 891.7L364.6 892.2L365.1 892.7L365.5 893.3L365.9 893.8L366.3 894.3L366.7 894.9L367.1 895.4L367.5 895.9L367.8 896.5L368.2 897.0L368.6 897.6L369.0 898.1L369.4 898.7L369.7 899.2L370.1 899.8L370.5 900.3L370.8 900.9L371.2 901.5L371.5 902.0L371.8 902.6L372.2 903.2L372.5 903.8L372.8 904.4L373.1 904.9L373.4 905.5L373.7 906.1L374.0 906.7L374.3 907.3L374.6 907.9L374.9 908.5L375.1 909.2L375.4 909.8L375.6 910.4L375.9 911.0L376.1 911.6L376.4 912.3L376.6 912.9L376.9 913.5L377.1 914.1L377.3 914.8L377.6 915.4L377.8 916.0L378.0 916.7L378.2 917.3L378.5 917.9L378.7 918.6L378.9 919.2L379.1 919.9L379.3 920.5L379.5 921.1L379.8 921.8L380.0 922.4L380.2 923.0L380.4 923.7L380.6 924.3L380.8 924.9L381.1 925.6L381.3 926.2L381.5 926.8L381.7 927.4L382.0 928.1L382.2 928.7L382.4 929.3L382.7 929.9L382.9 930.5L383.2 931.1L383.4 931.7L383.7 932.3L383.9 932.9L384.2 933.5L384.4 934.1L384.7 934.8L385.0 935.4L385.2 936.0L385.5 936.6L385.8 937.2L386.1 937.8L386.4 938.4L386.7 939.0L387.0 939.6L387.3 940.2L387.6 940.8L387.9 941.5L388.2 942.1L388.5 942.7L388.9 943.3L389.2 944.0L389.5 944.6L389.9 945.2L390.2 945.8L390.6 946.5L390.9 947.1L391.3 947.7L391.7 948.2L392.1 948.8L392.5 949.3L392.9 949.9L393.4 950.4L393.8 950.9L394.3 951.3L394.8 951.8L395.3 952.2L395.8 952.6L396.3 952.9L396.9 953.2L397.5 953.5L398.0 953.8L398.7 954.0L399.3 954.1L399.9 954.3L400.6 954.4L401.3 954.5L401.9 954.5L402.6 954.6L403.3 954.6L404.0 954.7L404.7 954.7L405.5 954.7L406.2 954.7L406.9 954.8L407.5 954.8L408.2 954.9L408.9 955.0L409.6 955.1L410.2 955.2L410.8 955.4L411.5 955.6L412.0 955.8L412.6 956.1L413.2 956.4L413.7 956.7L414.3 957.1L414.8 957.4L415.3 957.8L415.8 958.2L416.3 958.6L416.8 959.1L417.2 959.5L417.7 960.0L418.1 960.5L418.6 961.0L419.0 961.6L419.4 962.1L419.8 962.6L420.2 963.2L420.6 963.7L421.0 964.3L421.4 964.9L421.7 965.5L422.1 966.0L422.5 966.6L422.8 967.2L423.2 967.8L423.5 968.4L423.9 969.0L424.2 969.6L424.6 970.2L424.9 970.8L425.2 971.4L425.5 972.0L425.9 972.6L426.2 973.2L426.5 973.8L426.8 974.4L427.1 975.1L427.4 975.7L427.7 976.3L428.0 976.9L428.3 977.5L428.6 978.1L428.9 978.8L429.2 979.4L429.5 980.0L429.8 980.6L430.1 981.2L430.4 981.8L430.7 982.4L431.1 983.1L431.4 983.7L431.7 984.3L432.0 984.9L432.3 985.5L432.6 986.1L432.9 986.7L433.2 987.3L433.5 987.9L433.8 988.5L434.2 989.0L434.5 989.6L434.8 990.2L435.2 990.8L435.5 991.4L435.8 991.9L436.2 992.5L436.5 993.0L436.9 993.6L437.2 994.1L437.6 994.7L438.0 995.2L438.4 995.8L438.7 996.3L439.1 996.8L439.5 997.3L439.9 997.8L440.3 998.3L440.7 998.8L441.2 999.3L441.6 999.8L442.0 1000.3L442.5 1000.7L442.9 1001.2L443.4 1001.6L443.9 1002.1L444.4 1002.5L444.8 1002.9L445.3 1003.4L445.9 1003.8L446.4 1004.2L446.9 1004.6L447.4 1004.9L448.0 1005.3L448.5 1005.7L449.1 1006.1L449.6 1006.4L450.2 1006.8L450.8 1007.1L451.3 1007.5L451.9 1007.8L452.5 1008.2L453.1 1008.5L453.7 1008.8L454.3 1009.2L454.9 1009.5L455.5 1009.8L456.1 1010.2L456.7 1010.5L457.3 1010.8L457.9 1011.1L458.5 1011.5L459.1 1011.8L459.7 1012.1L460.3 1012.5L460.9 1012.8L461.5 1013.1L462.1 1013.5L462.7 1013.8L463.3 1014.2L463.9 1014.5L464.4 1014.9L465.0 1015.2L465.6 1015.5L466.2 1015.9L466.8 1016.2L467.4 1016.6L467.9 1017.0L468.5 1017.3L469.1 1017.7L469.7 1018.0L470.2 1018.4L470.8 1018.7L471.4 1019.0L472.0 1019.4L472.6 1019.7L473.1 1020.1L473.7 1020.4L474.3 1020.8L474.9 1021.1L475.4 1021.4L476.0 1021.8L476.6 1022.1L477.2 1022.4L477.7 1022.7L478.3 1023.1L478.9 1023.4L479.5 1023.7L480.1 1024.0L480.7 1024.3L481.2 1024.6L481.8 1024.9L482.4 1025.2L483.0 1025.4L483.6 1025.7L484.2 1026.0L484.8 1026.3L485.4 1026.5L486.0 1026.8L486.6 1027.0L487.2 1027.3L487.8 1027.5L488.4 1027.7L489.1 1027.9L489.7 1028.1L490.3 1028.3L490.9 1028.5L491.6 1028.7L492.2 1028.9L492.8 1029.1L493.5 1029.2L494.1 1029.4L494.8 1029.5L495.4 1029.7L496.1 1029.8L496.7 1030.0L497.4 1030.1L498.0 1030.2L498.7 1030.3L499.3 1030.4L500.0 1030.5L500.7 1030.6L501.3 1030.7L502.0 1030.8L502.7 1030.9L503.3 1031.0L504.0 1031.1L504.7 1031.1L505.4 1031.2L506.0 1031.3L506.7 1031.4L507.4 1031.4L508.1 1031.5L508.7 1031.6L509.4 1031.6L510.1 1031.7L510.8 1031.8L511.5 1031.8L512.1 1031.9L512.8 1032.0L513.5 1032.1L514.2 1032.1L514.8 1032.2L515.5 1032.3L516.2 1032.3L516.9 1032.4L517.5 1032.5L518.2 1032.6L518.9 1032.7L519.5 1032.7L520.2 1032.8L520.9 1032.9L521.5 1033.0L522.2 1033.1L522.8 1033.2L523.5 1033.3L524.2 1033.4L524.8 1033.6L525.5 1033.7L526.1 1033.8L526.8 1033.9L527.4 1034.1L528.1 1034.2L528.7 1034.3L529.4 1034.5L530.0 1034.6L530.7 1034.8L531.3 1034.9L531.9 1035.1L532.6 1035.2L533.2 1035.4L533.9 1035.6L534.5 1035.7L535.1 1035.9L535.8 1036.1L536.4 1036.3L537.0 1036.5L537.6 1036.7L538.3 1036.9L538.9 1037.1L539.5 1037.3L540.1 1037.5L540.8 1037.7L541.4 1037.9L542.0 1038.1L542.6 1038.4L543.2 1038.6L543.9 1038.9L544.5 1039.1L545.1 1039.3L545.7 1039.6L546.3 1039.9L546.9 1040.1L547.5 1040.4L548.1 1040.7L548.7 1041.0L549.3 1041.3L549.9 1041.5L550.5 1041.8L551.1 1042.2L551.7 1042.5L552.3 1042.8L552.9 1043.1L553.5 1043.4L554.1 1043.8L554.7 1044.1L555.3 1044.4L555.9 1044.8L556.5 1045.1L557.1 1045.4L557.7 1045.8L558.3 1046.1L558.9 1046.4L559.5 1046.7L560.1 1047.0L560.7 1047.3L561.3 1047.6L561.9 1047.8L562.5 1048.1L563.1 1048.3L563.7 1048.5L564.4 1048.7L565.0 1048.9L565.6 1049.1L566.3 1049.3L566.9 1049.4L567.6 1049.6L568.2 1049.7L568.9 1049.8L569.5 1049.9L570.2 1050.0L570.8 1050.1L571.5 1050.1L572.1 1050.2L572.8 1050.2L573.5 1050.3L574.2 1050.3L574.8 1050.3L575.5 1050.4L576.2 1050.4L576.8 1050.4L577.5 1050.4L578.2 1050.3L578.9 1050.3L579.6 1050.3L580.2 1050.3L580.9 1050.2L581.6 1050.2L582.3 1050.1L583.0 1050.1L583.7 1050.0L584.3 1050.0L585.0 1049.9L585.7 1049.9L586.4 1049.8L587.1 1049.7L587.8 1049.7L588.4 1049.6L589.1 1049.6L589.8 1049.5L590.5 1049.4L591.2 1049.4L591.8 1049.3L592.5 1049.2L593.2 1049.2L593.9 1049.1L594.5 1049.0L595.2 1049.0L595.9 1048.9L596.6 1048.9L597.2 1048.8L597.9 1048.7L598.6 1048.7L599.2 1048.6L599.9 1048.6L600.6 1048.5L601.2 1048.5L601.9 1048.4L602.6 1048.4L603.2 1048.3L603.9 1048.3L604.6 1048.2L605.2 1048.2L605.9 1048.1L606.6 1048.1L607.2 1048.1L607.9 1048.0L608.5 1048.0L609.2 1047.9L609.9 1047.9L610.5 1047.9L611.2 1047.8L611.9 1047.8L612.5 1047.8L613.2 1047.8L613.8 1047.7L614.5 1047.7L615.2 1047.7L615.8 1047.7L616.5 1047.7L617.2 1047.6L617.8 1047.6L618.5 1047.6L619.2 1047.6L619.8 1047.6L620.5 1047.6L621.1 1047.6L621.8 1047.6L622.5 1047.6L623.1 1047.6L623.8 1047.6L624.5 1047.6L625.1 1047.6L625.8 1047.6L626.5 1047.6L627.1 1047.6L627.8 1047.6L628.5 1047.6L629.1 1047.6L629.8 1047.6L630.5 1047.6L631.1 1047.6L631.8 1047.7L632.5 1047.7L633.1 1047.7L633.8 1047.7L634.5 1047.7L635.1 1047.7L635.8 1047.8L636.5 1047.8L637.1 1047.8L637.8 1047.8L638.5 1047.9L639.1 1047.9L639.8 1047.9L640.5 1047.9L641.1 1048.0L641.8 1048.0L642.5 1048.0L643.1 1048.0L643.8 1048.1L644.5 1048.1L645.1 1048.1L645.8 1048.1L646.5 1048.2L647.1 1048.2L647.8 1048.2L648.5 1048.3L649.1 1048.3L649.8 1048.3L650.5 1048.4L651.1 1048.4L651.8 1048.4L652.5 1048.5L653.1 1048.5L653.8 1048.5L654.5 1048.6L655.1 1048.6L655.8 1048.6L656.5 1048.7L657.1 1048.7L657.8 1048.7L658.5 1048.8L659.1 1048.8L659.8 1048.8L660.5 1048.9L661.1 1048.9L661.8 1048.9L662.5 1049.0L663.1 1049.0L663.8 1049.0L664.5 1049.0L665.1 1049.1L665.8 1049.1L666.5 1049.1L667.1 1049.2L667.8 1049.2L668.5 1049.2L669.1 1049.3L669.8 1049.3L670.5 1049.3L671.1 1049.3L671.8 1049.4L672.5 1049.4L673.1 1049.4L673.8 1049.4L674.5 1049.5L675.1 1049.5L675.8 1049.5L676.5 1049.6L677.1 1049.6L677.8 1049.6L678.5 1049.6L679.1 1049.7L679.8 1049.7L680.5 1049.7L681.1 1049.8L681.8 1049.8L682.5 1049.8L683.1 1049.8L683.8 1049.9L684.5 1049.9L685.1 1049.9L685.8 1050.0L686.5 1050.0L687.1 1050.0L687.8 1050.0L688.5 1050.1L689.1 1050.1L689.8 1050.1L690.5 1050.2L691.1 1050.2L691.8 1050.2L692.5 1050.3L693.1 1050.3L693.8 1050.3L694.5 1050.4L695.1 1050.4L695.8 1050.4L696.5 1050.5L697.1 1050.5L697.8 1050.5L698.5 1050.6L699.1 1050.6L699.8 1050.7L700.0 1050.7L704.0 1050.9L710.0 1051.5L716.0 1052.2L722.0 1052.8L728.0 1052.9L734.0 1052.5L740.0 1051.7L746.0 1051.2L752.0 1051.1L758.0 1051.2L764.0 1051.5L770.0 1051.8L776.0 1052.2L782.0 1052.6L788.0 1052.9L794.0 1053.3L800.0 1053.6L806.0 1053.8L812.0 1054.1L818.0 1054.3L824.0 1054.5L830.0 1054.8L836.0 1055.0L842.0 1055.2L848.0 1055.3L854.0 1055.5L860.0 1055.7L866.0 1055.8L872.0 1056.0L878.0 1056.0L884.0 1056.1L890.0 1056.1L896.0 1056.2L902.0 1056.2L908.0 1056.3L914.0 1056.3L920.0 1056.3L926.0 1056.4L932.0 1056.5L938.0 1056.7L944.0 1056.8L950.0 1057.0L956.0 1057.2L962.0 1057.5L968.0 1057.7L974.0 1057.9L980.0 1058.1L986.0 1058.2L992.0 1058.4L998.0 1058.5L1004.0 1058.5L1010.0 1058.6L1016.0 1058.6L1022.0 1058.7L1028.0 1058.7L1034.0 1058.8L1040.0 1058.8L1046.0 1058.9L1052.0 1058.9L1058.0 1058.9L1064.0 1059.0L1070.0 1059.0L1076.0 1059.0L1082.0 1059.1L1088.0 1059.1L1094.0 1059.1L1100.0 1059.1L1106.0 1059.1L1112.0 1059.2L1118.0 1059.2L1124.0 1059.2L1130.0 1059.2L1136.0 1059.2L1142.0 1059.2L1148.0 1059.2L1154.0 1059.2L1160.0 1059.3L1166.0 1059.3L1172.0 1059.3L1178.0 1059.3L1184.0 1059.3L1190.0 1059.3L1196.0 1059.3L1202.0 1059.3L1208.0 1059.3L1214.0 1059.4L1220.0 1059.4L1226.0 1059.4L1232.0 1059.4L1238.0 1059.4L1244.0 1059.4L1250.0 1059.4L1256.0 1059.4L1262.0 1059.4L1268.0 1059.5L1274.0 1059.5L1280.0 1059.5L1286.0 1059.5L1292.0 1059.5L1298.0 1059.5L1304.0 1059.5L1310.0 1059.5L1316.0 1059.5L1322.0 1059.5L1328.0 1059.5L1334.0 1059.5L1340.0 1059.6L1346.0 1059.6L1352.0 1059.6L1358.0 1059.6L1364.0 1059.6L1370.0 1059.6L1376.0 1059.6L1382.0 1059.6L1388.0 1059.6L1394.0 1059.6L1400.0 1059.6L1406.0 1059.6L1412.0 1059.6L1418.0 1059.6L1424.0 1059.7L1430.0 1059.7L1436.0 1059.7L1442.0 1059.7L1448.0 1059.7L1454.0 1059.7L1460.0 1059.7L1466.0 1059.7L1472.0 1059.7L1478.0 1059.7L1484.0 1059.7L1490.0 1059.7L1496.0 1059.7L1502.0 1059.7L1508.0 1059.7L1514.0 1059.7L1520.0 1059.7L1526.0 1059.7L1532.0 1059.7L1538.0 1059.7L1544.0 1059.8L1550.0 1059.8L1556.0 1059.8L1562.0 1059.8L1568.0 1059.8L1574.0 1059.8L1580.0 1059.8L1586.0 1059.8L1592.0 1059.8L1598.0 1059.8L1604.0 1059.8L1610.0 1059.8L1616.0 1059.8L1622.0 1059.8L1628.0 1059.8L1634.0 1059.8L1640.0 1059.8L1646.0 1059.8L1652.0 1059.8L1658.0 1059.8L1664.0 1059.8L1670.0 1059.8L1676.0 1059.8L1682.0 1059.8L1688.0 1059.8L1694.0 1059.8L1700.0 1059.8L1706.0 1059.8L1712.0 1059.8L1718.0 1059.8L1724.0 1059.8L1730.0 1059.8L1736.0 1059.8L1742.0 1059.8L1748.0 1059.8L1754.0 1059.8L1760.0 1059.8L1766.0 1059.8L1772.0 1059.8L1778.0 1059.8L1784.0 1059.8L1790.0 1059.8L1796.0 1059.8L1802.0 1059.8L1808.0 1059.8L1814.0 1059.8L1820.0 1059.8L1826.0 1059.8L1832.0 1059.8L1838.0 1059.8L1844.0 1059.8L1850.0 1059.8L1856.0 1059.8L1862.0 1059.8L1868.0 1059.8L1874.0 1059.8L1880.0 1059.8L1886.0 1059.8L1892.0 1059.8L1898.0 1059.8L1904.0 1059.8L1910.0 1059.8L1916.0 1059.8L1922.0 1059.8L1928.0 1059.8L1934.0 1059.8L1940.0 1059.8L1946.0 1059.8L1952.0 1059.8L1958.0 1059.8L1964.0 1059.8L1970.0 1059.8L1976.0 1059.8L1982.0 1059.8L1988.0 1059.8L1994.0 1059.8L2000.0 1059.8L2006.0 1059.8L2012.0 1059.8L2018.0 1059.8L2024.0 1059.8L2030.0 1059.8L2036.0 1059.8L2042.0 1059.8L2048.0 1059.8L2054.0 1059.8L2060.0 1059.8L2066.0 1059.8L2072.0 1059.8L2078.0 1059.8L2084.0 1059.8L2090.0 1059.8L2096.0 1059.8L2102.0 1059.8L2108.0 1059.8L2114.0 1059.8L2120.0 1059.8L2126.0 1059.8L2132.0 1059.8L2138.0 1059.8L2144.0 1059.8L2150.0 1059.8L2156.0 1059.8L2162.0 1059.8L2168.0 1059.8L2174.0 1059.8L2180.0 1059.8L2186.0 1059.8L2192.0 1059.8L2198.0 1059.8L2204.0 1059.8L2210.0 1059.8L2216.0 1059.8L2222.0 1059.8L2228.0 1059.8L2234.0 1059.8L2240.0 1059.8L2246.0 1059.8L2252.0 1059.8L2258.0 1059.8L2264.0 1059.8L2270.0 1059.8L2276.0 1059.8L2282.0 1059.8L2288.0 1059.8L2294.0 1059.8L2300.0 1059.8L2306.0 1059.8L2312.0 1059.8L2318.0 1059.8L2324.0 1059.8L2330.0 1059.8L2336.0 1059.8L2342.0 1059.8L2348.0 1059.8L2348.4 1059.8" stroke="#000" stroke-width="8.33" fill="none" stroke-linejoin="round" stroke-linecap="square"/>
<path d="M175.5 1062.3L176.1 1061.8L176.6 1061.3L177.2 1060.8L177.7 1060.3L178.3 1059.9L178.9 1059.4L179.5 1059.0L180.1 1058.6L180.6 1058.3L181.2 1057.9L181.8 1057.6L182.4 1057.3L183.0 1057.0L183.6 1056.7L184.2 1056.4L184.9 1056.1L185.5 1055.9L186.1 1055.7L186.7 1055.4L187.3 1055.2L188.0 1055.0L188.6 1054.8L189.2 1054.7L189.9 1054.5L190.5 1054.4L191.2 1054.2L191.8 1054.1L192.4 1053.9L193.1 1053.8L193.8 1053.7L194.4 1053.6L195.1 1053.5L195.7 1053.4L196.4 1053.3L197.0 1053.2L197.7 1053.1L198.4 1053.0L199.0 1053.0L199.7 1052.9L200.4 1052.8L201.1 1052.7L201.7 1052.6L202.4 1052.6L203.1 1052.5L203.8 1052.4L204.5 1052.3L205.1 1052.3L205.8 1052.2L206.5 1052.1L207.2 1052.0L207.9 1051.9L208.6 1051.8L209.3 1051.7L209.9 1051.6L210.6 1051.5L211.3 1051.4L212.0 1051.3L212.7 1051.1L213.3 1051.0L214.0 1050.9L214.7 1050.7L215.4 1050.6L216.0 1050.4L216.7 1050.3L217.4 1050.1L218.0 1050.0L218.7 1049.8L219.4 1049.6L220.0 1049.4L220.7 1049.2L221.3 1049.0L222.0 1048.8L222.6 1048.6L223.2 1048.3L223.8 1048.1L224.5 1047.9L225.1 1047.6L225.7 1047.3L226.3 1047.1L226.9 1046.8L227.5 1046.5L228.1 1046.2L228.7 1045.9L229.2 1045.5L229.8 1045.2L230.3 1044.9L230.9 1044.5L231.4 1044.1L232.0 1043.8L232.5 1043.4L233.0 1043.0L233.5 1042.5L234.0 1042.1L234.5 1041.7L235.0 1041.2L235.5 1040.8L236.0 1040.3L236.5 1039.9L236.9 1039.4L237.4 1038.9L237.9 1038.4L238.3 1037.9L238.8 1037.4L239.2 1036.9L239.7 1036.4L240.1 1035.9L240.5 1035.3L241.0 1034.8L241.4 1034.3L241.8 1033.7L242.2 1033.2L242.7 1032.6L243.1 1032.1L243.5 1031.6L243.9 1031.0L244.4 1030.5L244.8 1029.9L245.2 1029.4L245.6 1028.8L246.0 1028.2L246.5 1027.7L246.9 1027.1L247.3 1026.6L247.7 1026.0L248.1 1025.5L248.6 1024.9L249.0 1024.4L249.4 1023.8L249.8 1023.3L250.2 1022.7L250.6 1022.2L251.1 1021.6L251.5 1021.1L251.9 1020.5L252.3 1020.0L252.7 1019.4L253.1 1018.9L253.5 1018.3L253.9 1017.8L254.3 1017.2L254.7 1016.6L255.1 1016.1L255.4 1015.5L255.8 1015.0L256.2 1014.4L256.6 1013.8L256.9 1013.3L257.3 1012.7L257.7 1012.1L258.0 1011.5L258.4 1011.0L258.7 1010.4L259.1 1009.8L259.4 1009.2L259.8 1008.6L260.1 1008.1L260.5 1007.5L260.8 1006.9L261.1 1006.3L261.4 1005.7L261.8 1005.1L262.1 1004.5L262.4 1003.9L262.7 1003.3L263.0 1002.7L263.3 1002.1L263.7 1001.6L264.0 1001.0L264.3 1000.4L264.6 999.7L264.8 999.1L265.1 998.5L265.4 997.9L265.7 997.3L266.0 996.7L266.3 996.1L266.6 995.5L266.8 994.9L267.1 994.3L267.4 993.7L267.6 993.0L267.9 992.4L268.2 991.8L268.4 991.2L268.7 990.6L268.9 990.0L269.2 989.3L269.4 988.7L269.7 988.1L269.9 987.5L270.2 986.8L270.4 986.2L270.6 985.6L270.9 984.9L271.1 984.3L271.3 983.7L271.6 983.1L271.8 982.4L272.0 981.8L272.2 981.2L272.5 980.5L272.7 979.9L272.9 979.2L273.1 978.6L273.3 978.0L273.5 977.3L273.7 976.7L273.9 976.0L274.1 975.4L274.3 974.8L274.5 974.1L274.7 973.5L274.9 972.8L275.1 972.2L275.3 971.5L275.5 970.9L275.7 970.2L275.9 969.6L276.1 968.9L276.2 968.3L276.4 967.6L276.6 967.0L276.8 966.3L277.0 965.7L277.1 965.0L277.3 964.4L277.5 963.7L277.6 963.0L277.8 962.4L278.0 961.7L278.2 961.1L278.3 960.4L278.5 959.8L278.6 959.1L278.8 958.4L279.0 957.8L279.1 957.1L279.3 956.5L279.4 955.8L279.6 955.1L279.7 954.5L279.9 953.8L280.0 953.1L280.2 952.5L280.3 951.8L280.5 951.2L280.6 950.5L280.8 949.8L280.9 949.2L281.1 948.5L281.2 947.8L281.4 947.2L281.5 946.5L281.6 945.8L281.8 945.2L281.9 944.5L282.1 943.8L282.2 943.1L282.3 942.5L282.5 941.8L282.6 941.1L282.7 940.5L282.9 939.8L283.0 939.1L283.1 938.5L283.3 937.8L283.4 937.1L283.5 936.5L283.7 935.8L283.8 935.1L283.9 934.4L284.0 933.8L284.2 933.1L284.3 932.4L284.4 931.8L284.6 931.1L284.7 930.4L284.8 929.8L284.9 929.1L285.1 928.4L285.2 927.7L285.3 927.1L285.4 926.4L285.6 925.7L285.7 925.1L285.8 924.4L285.9 923.7L286.1 923.0L286.2 922.4L286.3 921.7L286.4 921.0L286.6 920.4L286.7 919.7L286.8 919.0L287.0 918.4L287.1 917.7L287.2 917.0L287.3 916.4L287.5 915.7L287.6 915.0L287.7 914.4L287.8 913.7L288.0 913.0L288.1 912.4L288.2 911.7L288.4 911.0L288.5 910.4L288.6 909.7L288.7 909.0L288.9 908.4L289.0 907.7L289.1 907.0L289.3 906.4L289.4 905.7L289.5 905.0L289.7 904.4L289.8 903.7L289.9 903.0L290.1 902.4L290.2 901.7L290.3 901.1L290.5 900.4L290.6 899.7L290.7 899.1L290.9 898.4L291.0 897.7L291.1 897.1L291.3 896.4L291.4 895.8L291.5 895.1L291.7 894.4L291.8 893.8L291.9 893.1L292.1 892.5L292.2 891.8L292.3 891.1L292.5 890.5L292.6 889.8L292.7 889.2L292.9 888.5L293.0 887.8L293.1 887.2L293.3 886.5L293.4 885.9L293.6 885.2L293.7 884.5L293.8 883.9L294.0 883.2L294.1 882.6L294.2 881.9L294.4 881.2L294.5 880.6L294.6 879.9L294.8 879.3L294.9 878.6L295.0 877.9L295.2 877.3L295.3 876.6L295.5 876.0L295.6 875.3L295.7 874.6L295.9 874.0L296.0 873.3L296.1 872.7L296.3 872.0L296.4 871.3L296.5 870.7L296.7 870.0L296.8 869.4L296.9 868.7L297.1 868.0L297.2 867.4L297.3 866.7L297.5 866.1L297.6 865.4L297.7 864.7L297.9 864.1L298.0 863.4L298.1 862.7L298.3 862.1L298.4 861.4L298.5 860.8L298.7 860.1L298.8 859.4L298.9 858.8L299.1 858.1L299.2 857.4L299.3 856.8L299.5 856.1L299.6 855.5L299.7 854.8L299.8 854.1L300.0 853.5L300.1 852.8L300.2 852.1L300.4 851.5L300.5 850.8L300.6 850.1L300.7 849.5L300.9 848.8L301.0 848.1L301.1 847.5L301.2 846.8L301.4 846.1L301.5 845.5L301.6 844.8L301.7 844.1L301.9 843.5L302.0 842.8L302.1 842.1L302.2 841.5L302.4 840.8L302.5 840.1L302.6 839.5L302.7 838.8L302.8 838.1L303.0 837.4L303.1 836.8L303.2 836.1L303.3 835.4L303.4 834.8L303.6 834.1L303.7 833.4L303.8 832.7L303.9 832.1L304.0 831.4L304.2 830.7L304.3 830.1L304.4 829.4L304.5 828.7L304.6 828.0L304.7 827.4L304.9 826.7L305.0 826.0L305.1 825.4L305.2 824.7L305.3 824.0L305.4 823.3L305.6 822.7L305.7 822.0L305.8 821.3L305.9 820.7L306.0 820.0L306.1 819.3L306.3 818.6L306.4 818.0L306.5 817.3L306.6 816.6L306.7 816.0L306.8 815.3L306.9 814.6L307.1 813.9L307.2 813.3L307.3 812.6L307.4 811.9L307.5 811.3L307.6 810.6L307.8 809.9L307.9 809.3L308.0 808.6L308.1 807.9L308.2 807.3L308.3 806.6L308.4 805.9L308.6 805.3L308.7 804.6L308.8 803.9L308.9 803.3L309.0 802.6L309.1 802.0L309.3 801.3L309.4 800.6L309.5 800.0L309.6 799.3L309.7 798.6L309.8 798.0L310.0 797.3L310.1 796.7L310.2 796.0L310.3 795.3L310.4 794.7L310.5 794.0L310.7 793.4L310.8 792.7L310.9 792.1L311.0 791.4L311.1 790.8L311.3 790.1L311.4 789.4L311.5 788.8L311.6 788.1L311.8 787.5L311.9 786.8L312.0 786.2L312.2 785.5L312.3 784.9L312.4 784.2L312.6 783.5L312.7 782.9L312.8 782.2L313.0 781.6L313.1 780.9L313.3 780.2L313.4 779.6L313.6 778.9L313.7 778.2L313.9 777.6L314.0 776.9L314.2 776.2L314.4 775.6L314.5 774.9L314.7 774.2L314.9 773.6L315.1 772.9L315.2 772.2L315.4 771.5L315.6 770.8L315.8 770.2L316.0 769.5L316.2 768.8L316.4 768.1L316.6 767.4L316.8 766.7L317.0 766.0L317.3 765.3L317.5 764.6L317.7 763.9L317.9 763.2L318.2 762.5L318.5 761.9L318.7 761.4L319.0 760.9L319.3 760.5L319.6 760.3L320.0 760.1L320.3 760.1L320.7 760.2L321.1 760.5L321.5 760.8L321.9 761.3L322.3 761.8L322.7 762.4L323.1 763.1L323.5 763.7L323.9 764.4L324.2 765.1L324.5 765.8L324.8 766.5L325.0 767.2L325.3 767.9L325.5 768.6L325.7 769.2L325.9 769.9L326.1 770.6L326.2 771.2L326.4 771.9L326.5 772.6L326.7 773.2L326.8 773.9L327.0 774.6L327.1 775.2L327.3 775.9L327.4 776.6L327.5 777.2L327.7 777.9L327.8 778.5L328.0 779.2L328.1 779.8L328.3 780.5L328.5 781.2L328.6 781.8L328.8 782.5L328.9 783.1L329.1 783.8L329.3 784.4L329.4 785.1L329.6 785.7L329.8 786.4L329.9 787.1L330.1 787.7L330.3 788.4L330.4 789.0L330.6 789.7L330.8 790.3L330.9 791.0L331.1 791.6L331.3 792.3L331.4 792.9L331.6 793.6L331.8 794.2L332.0 794.9L332.1 795.6L332.3 796.2L332.5 796.9L332.6 797.5L332.8 798.2L333.0 798.8L333.1 799.5L333.3 800.1L333.5 800.8L333.6 801.4L333.8 802.1L334.0 802.7L334.1 803.4L334.3 804.1L334.4 804.7L334.6 805.4L334.8 806.0L334.9 806.7L335.1 807.3L335.2 808.0L335.4 808.7L335.5 809.3L335.7 810.0L335.8 810.6L336.0 811.3L336.1 812.0L336.3 812.6L336.4 813.3L336.5 813.9L336.7 814.6L336.8 815.3L336.9 815.9L337.1 816.6L337.2 817.2L337.3 817.9L337.5 818.6L337.6 819.2L337.7 819.9L337.8 820.6L338.0 821.2L338.1 821.9L338.2 822.6L338.3 823.2L338.4 823.9L338.6 824.6L338.7 825.2L338.8 825.9L338.9 826.6L339.0 827.2L339.2 827.9L339.3 828.6L339.4 829.2L339.5 829.9L339.6 830.6L339.7 831.2L339.9 831.9L340.0 832.6L340.1 833.2L340.2 833.9L340.3 834.6L340.4 835.2L340.6 835.9L340.7 836.6L340.8 837.2L340.9 837.9L341.0 838.6L341.1 839.3L341.3 839.9L341.4 840.6L341.5 841.3L341.6 841.9L341.7 842.6L341.9 843.3L342.0 843.9L342.1 844.6L342.2 845.3L342.4 845.9L342.5 846.6L342.6 847.3L342.7 847.9L342.9 848.6L343.0 849.3L343.1 849.9L343.3 850.6L343.4 851.3L343.5 851.9L343.7 852.6L343.8 853.3L344.0 853.9L344.1 854.6L344.3 855.3L344.4 855.9L344.6 856.6L344.7 857.3L344.9 857.9L345.0 858.6L345.2 859.2L345.4 859.9L345.5 860.5L345.7 861.2L345.9 861.9L346.0 862.5L346.2 863.2L346.4 863.8L346.6 864.5L346.8 865.1L347.0 865.7L347.2 866.4L347.4 867.0L347.6 867.7L347.8 868.3L348.0 869.0L348.2 869.6L348.4 870.2L348.7 870.9L348.9 871.5L349.1 872.1L349.4 872.7L349.6 873.4L349.9 874.0L350.1 874.6L350.4 875.2L350.6 875.9L350.9 876.5L351.2 877.1L351.4 877.7L351.7 878.3L352.0 878.9L352.3 879.5L352.6 880.1L352.9 880.7L353.2 881.3L353.5 881.9L353.9 882.5L354.2 883.1L354.5 883.7L354.9 884.2L355.2 884.8L355.5 885.4L355.9 886.0L356.2 886.6L356.6 887.1L356.9 887.7L357.3 888.3L357.7 888.9L358.0 889.4L358.4 890.0L358.7 890.6L359.1 891.1L359.5 891.7L359.9 892.3L360.2 892.8L360.6 893.4L361.0 894.0L361.4 894.5L361.7 895.1L362.1 895.7L362.5 896.2L362.9 896.8L363.3 897.4L363.6 897.9L364.0 898.5L364.4 899.1L364.8 899.6L365.1 900.2L365.5 900.8L365.9 901.3L366.3 901.9L366.6 902.5L367.0 903.0L367.4 903.6L367.7 904.2L368.1 904.7L368.4 905.3L368.8 905.9L369.1 906.5L369.5 907.1L369.8 907.6L370.2 908.2L370.5 908.8L370.8 909.4L371.2 910.0L371.5 910.6L371.8 911.2L372.1 911.8L372.4 912.3L372.7 912.9L373.0 913.5L373.3 914.2L373.6 914.8L373.9 915.4L374.1 916.0L374.4 916.6L374.7 917.2L374.9 917.8L375.2 918.4L375.4 919.1L375.7 919.7L375.9 920.3L376.2 920.9L376.4 921.6L376.7 922.2L376.9 922.8L377.1 923.5L377.4 924.1L377.6 924.7L377.8 925.4L378.1 926.0L378.3 926.6L378.5 927.3L378.7 927.9L379.0 928.6L379.2 929.2L379.4 929.8L379.6 930.5L379.9 931.1L380.1 931.8L380.3 932.4L380.6 933.0L380.8 933.7L381.0 934.3L381.3 935.0L381.5 935.6L381.8 936.3L382.0 936.9L382.3 937.5L382.5 938.2L382.8 938.8L383.0 939.4L383.3 940.1L383.6 940.7L383.8 941.4L384.1 942.0L384.4 942.6L384.7 943.3L385.0 943.9L385.3 944.5L385.6 945.1L385.9 945.8L386.2 946.4L386.5 947.0L386.8 947.6L387.2 948.2L387.5 948.8L387.9 949.4L388.2 950.0L388.6 950.6L389.0 951.2L389.3 951.7L389.7 952.3L390.1 952.9L390.5 953.4L390.9 953.9L391.3 954.5L391.8 955.0L392.2 955.5L392.6 956.0L393.1 956.5L393.5 957.0L394.0 957.5L394.5 958.0L395.0 958.4L395.5 958.9L396.0 959.3L396.5 959.7L397.0 960.1L397.6 960.5L398.1 960.9L398.7 961.3L399.2 961.6L399.8 962.0L400.4 962.3L401.0 962.6L401.6 962.9L402.2 963.2L402.9 963.5L403.5 963.7L404.1 964.0L404.8 964.2L405.4 964.5L406.1 964.7L406.7 965.0L407.4 965.2L408.0 965.5L408.7 965.7L409.3 966.0L409.9 966.3L410.5 966.6L411.1 966.9L411.7 967.3L412.2 967.6L412.8 968.0L413.3 968.4L413.8 968.8L414.4 969.2L414.9 969.6L415.4 970.0L415.8 970.5L416.3 970.9L416.8 971.4L417.2 971.9L417.7 972.4L418.1 972.9L418.5 973.4L419.0 973.9L419.4 974.4L419.8 974.9L420.2 975.5L420.6 976.0L421.0 976.6L421.4 977.1L421.7 977.7L422.1 978.2L422.5 978.8L422.9 979.4L423.2 980.0L423.6 980.5L423.9 981.1L424.3 981.7L424.6 982.3L425.0 982.9L425.3 983.5L425.6 984.1L426.0 984.7L426.3 985.3L426.6 985.9L427.0 986.5L427.3 987.1L427.6 987.7L427.9 988.4L428.3 989.0L428.6 989.6L428.9 990.2L429.2 990.8L429.5 991.4L429.9 992.0L430.2 992.6L430.5 993.3L430.8 993.9L431.2 994.5L431.5 995.1L431.8 995.7L432.1 996.3L432.5 996.9L432.8 997.5L433.1 998.1L433.5 998.7L433.8 999.3L434.2 999.9L434.5 1000.5L434.8 1001.1L435.2 1001.6L435.6 1002.2L435.9 1002.8L436.3 1003.3L436.7 1003.9L437.0 1004.5L437.4 1005.0L437.8 1005.6L438.2 1006.1L438.6 1006.6L439.0 1007.2L439.4 1007.7L439.8 1008.2L440.2 1008.7L440.7 1009.2L441.1 1009.7L441.5 1010.2L442.0 1010.7L442.4 1011.2L442.9 1011.7L443.4 1012.1L443.9 1012.6L444.4 1013.0L444.9 1013.4L445.4 1013.9L445.9 1014.3L446.4 1014.7L446.9 1015.1L447.5 1015.5L448.0 1015.9L448.6 1016.3L449.2 1016.6L449.7 1017.0L450.3 1017.4L450.9 1017.7L451.5 1018.1L452.0 1018.4L452.6 1018.8L453.2 1019.1L453.8 1019.4L454.4 1019.8L455.0 1020.1L455.6 1020.4L456.2 1020.8L456.9 1021.1L457.5 1021.4L458.1 1021.8L458.7 1022.1L459.3 1022.5L459.9 1022.8L460.5 1023.1L461.1 1023.5L461.7 1023.8L462.3 1024.2L462.9 1024.5L463.5 1024.9L464.1 1025.2L464.7 1025.6L465.3 1025.9L465.9 1026.3L466.5 1026.6L467.1 1027.0L467.6 1027.3L468.2 1027.7L468.8 1028.0L469.4 1028.4L470.0 1028.7L470.6 1029.1L471.2 1029.4L471.8 1029.8L472.3 1030.1L472.9 1030.5L473.5 1030.8L474.1 1031.1L474.7 1031.5L475.3 1031.8L475.9 1032.1L476.5 1032.4L477.1 1032.8L477.7 1033.1L478.2 1033.4L478.8 1033.7L479.4 1034.0L480.0 1034.3L480.6 1034.6L481.2 1034.9L481.8 1035.1L482.5 1035.4L483.1 1035.7L483.7 1035.9L484.3 1036.2L484.9 1036.4L485.5 1036.7L486.1 1036.9L486.8 1037.1L487.4 1037.4L488.0 1037.6L488.6 1037.8L489.3 1037.9L489.9 1038.1L490.6 1038.3L491.2 1038.5L491.9 1038.6L492.5 1038.8L493.2 1038.9L493.8 1039.0L494.5 1039.1L495.1 1039.2L495.8 1039.3L496.5 1039.4L497.2 1039.5L497.8 1039.6L498.5 1039.7L499.2 1039.8L499.9 1039.8L500.5 1039.9L501.2 1040.0L501.9 1040.0L502.6 1040.1L503.3 1040.1L504.0 1040.2L504.7 1040.3L505.3 1040.3L506.0 1040.4L506.7 1040.4L507.4 1040.5L508.1 1040.5L508.8 1040.6L509.5 1040.6L510.2 1040.7L510.9 1040.8L511.5 1040.8L512.2 1040.9L512.9 1041.0L513.6 1041.0L514.3 1041.1L515.0 1041.2L515.7 1041.3L516.3 1041.4L517.0 1041.5L517.7 1041.6L518.4 1041.7L519.0 1041.9L519.7 1042.0L520.4 1042.1L521.0 1042.3L521.7 1042.4L522.3 1042.6L523.0 1042.8L523.7 1042.9L524.3 1043.1L525.0 1043.3L525.6 1043.5L526.3 1043.7L526.9 1043.9L527.6 1044.1L528.2 1044.3L528.9 1044.5L529.5 1044.7L530.2 1044.9L530.8 1045.1L531.4 1045.4L532.1 1045.6L532.7 1045.8L533.4 1046.0L534.0 1046.2L534.6 1046.5L535.3 1046.7L535.9 1046.9L536.6 1047.1L537.2 1047.4L537.8 1047.6L538.5 1047.8L539.1 1048.0L539.7 1048.3L540.4 1048.5L541.0 1048.7L541.7 1048.9L542.3 1049.1L542.9 1049.3L543.6 1049.5L544.2 1049.7L544.9 1049.9L545.5 1050.1L546.2 1050.3L546.8 1050.5L547.5 1050.6L548.1 1050.8L548.7 1051.0L549.4 1051.1L550.0 1051.3L550.7 1051.4L551.4 1051.5L552.0 1051.7L552.7 1051.8L553.3 1051.9L554.0 1052.0L554.7 1052.1L555.3 1052.2L556.0 1052.3L556.6 1052.4L557.3 1052.5L558.0 1052.5L558.6 1052.6L559.3 1052.7L560.0 1052.7L560.7 1052.8L561.3 1052.8L562.0 1052.9L562.7 1052.9L563.4 1053.0L564.0 1053.0L564.7 1053.0L565.4 1053.1L566.1 1053.1L566.7 1053.1L567.4 1053.1L568.1 1053.2L568.8 1053.2L569.5 1053.2L570.1 1053.2L570.8 1053.2L571.5 1053.2L572.2 1053.2L572.9 1053.3L573.5 1053.3L574.2 1053.3L574.9 1053.3L575.6 1053.3L576.3 1053.3L576.9 1053.3L577.6 1053.3L578.3 1053.3L579.0 1053.3L579.7 1053.4L580.3 1053.4L581.0 1053.4L581.7 1053.4L582.4 1053.4L583.1 1053.4L583.7 1053.4L584.4 1053.4L585.1 1053.4L585.8 1053.5L586.5 1053.5L587.1 1053.5L587.8 1053.5L588.5 1053.5L589.2 1053.5L589.9 1053.5L590.5 1053.5L591.2 1053.6L591.9 1053.6L592.6 1053.6L593.3 1053.6L593.9 1053.6L594.6 1053.6L595.3 1053.6L596.0 1053.6L596.6 1053.7L597.3 1053.7L598.0 1053.7L598.7 1053.7L599.4 1053.7L600.0 1053.7L600.7 1053.7L601.4 1053.8L602.1 1053.8L602.8 1053.8L603.4 1053.8L604.1 1053.8L604.8 1053.8L605.5 1053.8L606.1 1053.9L606.8 1053.9L607.5 1053.9L608.2 1053.9L608.9 1053.9L609.5 1053.9L610.2 1054.0L610.9 1054.0L611.6 1054.0L612.2 1054.0L612.9 1054.0L613.6 1054.0L614.3 1054.0L615.0 1054.1L615.6 1054.1L616.3 1054.1L617.0 1054.1L617.7 1054.1L618.3 1054.1L619.0 1054.2L619.7 1054.2L620.4 1054.2L621.1 1054.2L621.7 1054.2L622.4 1054.2L623.1 1054.3L623.8 1054.3L624.4 1054.3L625.1 1054.3L625.8 1054.3L626.5 1054.4L627.2 1054.4L627.8 1054.4L628.5 1054.4L629.2 1054.4L629.9 1054.4L630.5 1054.5L631.2 1054.5L631.9 1054.5L632.6 1054.5L633.2 1054.5L633.9 1054.5L634.6 1054.6L635.3 1054.6L635.9 1054.6L636.6 1054.6L637.3 1054.6L638.0 1054.7L638.7 1054.7L639.3 1054.7L640.0 1054.7L640.7 1054.7L641.4 1054.8L642.0 1054.8L642.7 1054.8L643.4 1054.8L644.1 1054.8L644.7 1054.8L645.4 1054.9L646.1 1054.9L646.8 1054.9L647.4 1054.9L648.1 1054.9L648.8 1055.0L649.5 1055.0L650.2 1055.0L650.8 1055.0L651.5 1055.0L652.2 1055.1L652.9 1055.1L653.5 1055.1L654.2 1055.1L654.9 1055.1L655.6 1055.1L656.2 1055.2L656.9 1055.2L657.6 1055.2L658.3 1055.2L658.9 1055.2L659.6 1055.3L660.3 1055.3L661.0 1055.3L661.6 1055.3L662.3 1055.3L663.0 1055.4L663.7 1055.4L664.4 1055.4L665.0 1055.4L665.7 1055.4L666.4 1055.5L667.1 1055.5L667.7 1055.5L668.4 1055.5L669.1 1055.5L669.8 1055.6L670.4 1055.6L671.1 1055.6L671.8 1055.6L672.5 1055.6L673.1 1055.6L673.8 1055.7L674.5 1055.7L675.2 1055.7L675.8 1055.7L676.5 1055.7L677.2 1055.8L677.9 1055.8L678.6 1055.8L679.2 1055.8L679.9 1055.8L680.6 1055.9L681.3 1055.9L681.9 1055.9L682.6 1055.9L683.3 1055.9L684.0 1055.9L684.6 1056.0L685.3 1056.0L686.0 1056.0L686.7 1056.0L687.3 1056.0L688.0 1056.1L688.7 1056.1L689.4 1056.1L690.0 1056.1L690.7 1056.1L691.4 1056.1L692.1 1056.2L692.8 1056.2L693.4 1056.2L694.1 1056.2L694.8 1056.2L695.5 1056.3L696.1 1056.3L696.8 1056.3L697.5 1056.3L698.2 1056.3L698.8 1056.3L699.5 1056.4L700.0 1056.4L704.0 1056.6L710.0 1056.8L716.0 1056.9L722.0 1057.0L728.0 1057.1L734.0 1057.1L740.0 1057.2L746.0 1057.2L752.0 1057.3L758.0 1057.4L764.0 1057.5L770.0 1057.6L776.0 1057.7L782.0 1057.9L788.0 1058.0L794.0 1058.1L800.0 1058.2L806.0 1058.4L812.0 1058.5L818.0 1058.6L824.0 1058.7L830.0 1058.9L836.0 1059.0L842.0 1059.1L848.0 1059.2L854.0 1059.3L860.0 1059.4L866.0 1059.4L872.0 1059.5L878.0 1059.6L884.0 1059.7L890.0 1059.8L896.0 1059.9L902.0 1060.0L908.0 1060.1L914.0 1060.2L920.0 1060.3L926.0 1060.4L932.0 1060.5L938.0 1060.5L944.0 1060.6L950.0 1060.7L956.0 1060.7L962.0 1060.8L968.0 1060.9L974.0 1060.9L980.0 1060.9L986.0 1061.0L992.0 1061.0L998.0 1061.0L1004.0 1061.0L1010.0 1061.0L1016.0 1061.0L1022.0 1061.0L1028.0 1061.0L1034.0 1061.0L1040.0 1061.0L1046.0 1061.0L1052.0 1061.0L1058.0 1061.0L1064.0 1061.0L1070.0 1061.0L1076.0 1061.0L1082.0 1061.0L1088.0 1061.1L1094.0 1061.1L1100.0 1061.1L1106.0 1061.1L1112.0 1061.1L1118.0 1061.1L1124.0 1061.1L1130.0 1061.1L1136.0 1061.1L1142.0 1061.1L1148.0 1061.1L1154.0 1061.1L1160.0 1061.1L1166.0 1061.1L1172.0 1061.1L1178.0 1061.1L1184.0 1061.1L1190.0 1061.1L1196.0 1061.1L1202.0 1061.1L1208.0 1061.1L1214.0 1061.1L1220.0 1061.1L1226.0 1061.1L1232.0 1061.1L1238.0 1061.1L1244.0 1061.1L1250.0 1061.1L1256.0 1061.1L1262.0 1061.1L1268.0 1061.1L1274.0 1061.1L1280.0 1061.1L1286.0 1061.1L1292.0 1061.1L1298.0 1061.1L1304.0 1061.1L1310.0 1061.1L1316.0 1061.1L1322.0 1061.1L1328.0 1061.1L1334.0 1061.1L1340.0 1061.1L1346.0 1061.1L1352.0 1061.1L1358.0 1061.1L1364.0 1061.1L1370.0 1061.1L1376.0 1061.1L1382.0 1061.1L1388.0 1061.1L1394.0 1061.1L1400.0 1061.1L1406.0 1061.1L1412.0 1061.1L1418.0 1061.1L1424.0 1061.1L1430.0 1061.1L1436.0 1061.1L1442.0 1061.1L1448.0 1061.1L1454.0 1061.1L1460.0 1061.1L1466.0 1061.1L1472.0 1061.1L1478.0 1061.1L1484.0 1061.1L1490.0 1061.1L1496.0 1061.1L1502.0 1061.1L1508.0 1061.1L1514.0 1061.1L1520.0 1061.1L1526.0 1061.1L1532.0 1061.1L1538.0 1061.1L1544.0 1061.1L1550.0 1061.1L1556.0 1061.1L1562.0 1061.1L1568.0 1061.1L1574.0 1061.1L1580.0 1061.1L1586.0 1061.1L1592.0 1061.1L1598.0 1061.1L1604.0 1061.1L1610.0 1061.1L1616.0 1061.1L1622.0 1061.1L1628.0 1061.1L1634.0 1061.1L1640.0 1061.1L1646.0 1061.1L1652.0 1061.1L1658.0 1061.1L1664.0 1061.1L1670.0 1061.1L1676.0 1061.1L1682.0 1061.1L1688.0 1061.1L1694.0 1061.1L1700.0 1061.1L1706.0 1061.1L1712.0 1061.1L1718.0 1061.1L1724.0 1061.1L1730.0 1061.1L1736.0 1061.1L1742.0 1061.1L1748.0 1061.1L1754.0 1061.1L1760.0 1061.1L1766.0 1061.1L1772.0 1061.1L1778.0 1061.1L1784.0 1061.1L1790.0 1061.1L1796.0 1061.1L1802.0 1061.1L1808.0 1061.1L1814.0 1061.1L1820.0 1061.1L1826.0 1061.1L1832.0 1061.1L1838.0 1061.1L1844.0 1061.1L1850.0 1061.1L1856.0 1061.1L1862.0 1061.1L1868.0 1061.1L1874.0 1061.1L1880.0 1061.1L1886.0 1061.1L1892.0 1061.1L1898.0 1061.1L1904.0 1061.1L1910.0 1061.1L1916.0 1061.1L1922.0 1061.1L1928.0 1061.1L1934.0 1061.1L1940.0 1061.1L1946.0 1061.1L1952.0 1061.1L1958.0 1061.1L1964.0 1061.1L1970.0 1061.1L1976.0 1061.1L1982.0 1061.1L1988.0 1061.1L1994.0 1061.1L2000.0 1061.1L2006.0 1061.1L2012.0 1061.1L2018.0 1061.1L2024.0 1061.1L2030.0 1061.1L2036.0 1061.1L2042.0 1061.1L2048.0 1061.1L2054.0 1061.1L2060.0 1061.1L2066.0 1061.1L2072.0 1061.1L2078.0 1061.1L2084.0 1061.1L2090.0 1061.1L2096.0 1061.1L2102.0 1061.1L2108.0 1061.1L2114.0 1061.1L2120.0 1061.1L2126.0 1061.1L2132.0 1061.1L2138.0 1061.1L2144.0 1061.1L2150.0 1061.1L2156.0 1061.1L2162.0 1061.1L2168.0 1061.1L2174.0 1061.1L2180.0 1061.1L2186.0 1061.1L2192.0 1061.1L2198.0 1061.1L2204.0 1061.1L2210.0 1061.1L2216.0 1061.1L2222.0 1061.1L2228.0 1061.1L2234.0 1061.1L2240.0 1061.1L2246.0 1061.1L2252.0 1061.1L2258.0 1061.1L2264.0 1061.1L2270.0 1061.1L2276.0 1061.1L2282.0 1061.1L2288.0 1061.1L2294.0 1061.1L2300.0 1061.1L2306.0 1061.1L2312.0 1061.1L2318.0 1061.1L2324.0 1061.1L2330.0 1061.1L2336.0 1061.1L2342.0 1061.1L2348.0 1061.1L2348.4 1061.1" stroke="#1f77b4" stroke-width="8.33" fill="none" stroke-linejoin="round" stroke-linecap="square"/>
<path d="M524.05 1062.50V76.50" stroke="#000" stroke-width="8.33" stroke-dasharray="53.33 13.33 8.33 13.33" fill="none"/>
</g>
<path d="M175.50 1062.50H2348.40V76.50H175.50Z" stroke="#000" stroke-width="3.33" fill="none" stroke-linejoin="miter"/>
<path d="M175.50 1062.50V1077.40M537.50 1062.50V1077.40M899.50 1062.50V1077.40M1261.50 1062.50V1077.40M1623.50 1062.50V1077.40M1986.50 1062.50V1077.40M2348.50 1062.50V1077.40M175.50 1062.50H160.60M175.50 864.50H160.60M175.50 667.50H160.60M175.50 470.50H160.60M175.50 273.50H160.60M175.50 76.50H160.60" stroke="#000" stroke-width="3.33" fill="none"/>
<text transform="matrix(1.0098 0 0 1 174.90 1120.60)" x="-12.10" font-size="43.5">0</text>
<text transform="matrix(0.9733 0 0 1 522.94 1120.60)" x="-12.10" font-size="43.5">2</text><text transform="matrix(1.0098 0 0 1 550.00 1120.60)" x="-12.10" font-size="43.5">0</text>
<text transform="matrix(1.0099 0 0 1 885.86 1120.60)" x="-11.96" font-size="43.5">4</text><text transform="matrix(1.0098 0 0 1 912.51 1120.60)" x="-12.10" font-size="43.5">0</text>
<text transform="matrix(1.0451 0 0 1 1247.72 1120.60)" x="-12.24" font-size="43.5">6</text><text transform="matrix(1.0098 0 0 1 1274.07 1120.60)" x="-12.10" font-size="43.5">0</text>
<text transform="matrix(1.0207 0 0 1 1609.60 1120.60)" x="-12.10" font-size="43.5">8</text><text transform="matrix(1.0098 0 0 1 1636.12 1120.60)" x="-12.10" font-size="43.5">0</text>
<text transform="matrix(0.9644 0 0 1 1958.85 1120.60)" x="-12.69" font-size="43.5">1</text><text transform="matrix(1.0098 0 0 1 1984.98 1120.60)" x="-12.10" font-size="43.5">0</text><text transform="matrix(1.0098 0 0 1 2011.50 1120.60)" x="-12.10" font-size="43.5">0</text>
<text transform="matrix(0.9644 0 0 1 2320.85 1120.60)" x="-12.69" font-size="43.5">1</text><text transform="matrix(0.9733 0 0 1 2346.44 1120.60)" x="-12.10" font-size="43.5">2</text><text transform="matrix(1.0098 0 0 1 2373.50 1120.60)" x="-12.10" font-size="43.5">0</text>
<text transform="matrix(1.0098 0 0 1 92.54 1076.80)" x="-12.10" font-size="43.5">0</text><text transform="matrix(1.0365 0 0 1 112.41 1076.80)" x="-6.04" font-size="43.5">.</text><text transform="matrix(1.0098 0 0 1 132.30 1076.80)" x="-12.10" font-size="43.5">0</text>
<text transform="matrix(1.0098 0 0 1 93.95 878.80)" x="-12.10" font-size="43.5">0</text><text transform="matrix(1.0365 0 0 1 113.82 878.80)" x="-6.04" font-size="43.5">.</text><text transform="matrix(0.9733 0 0 1 133.16 878.80)" x="-12.10" font-size="43.5">2</text>
<text transform="matrix(1.0098 0 0 1 92.12 681.80)" x="-12.10" font-size="43.5">0</text><text transform="matrix(1.0365 0 0 1 111.98 681.80)" x="-6.04" font-size="43.5">.</text><text transform="matrix(1.0099 0 0 1 131.73 681.80)" x="-11.96" font-size="43.5">4</text>
<text transform="matrix(1.0098 0 0 1 92.40 484.80)" x="-12.10" font-size="43.5">0</text><text transform="matrix(1.0365 0 0 1 112.27 484.80)" x="-6.04" font-size="43.5">.</text><text transform="matrix(1.0451 0 0 1 132.31 484.80)" x="-12.24" font-size="43.5">6</text>
<text transform="matrix(1.0098 0 0 1 92.63 287.80)" x="-12.10" font-size="43.5">0</text><text transform="matrix(1.0365 0 0 1 112.49 287.80)" x="-6.04" font-size="43.5">.</text><text transform="matrix(1.0207 0 0 1 132.38 287.80)" x="-12.10" font-size="43.5">8</text>
<text transform="matrix(0.9644 0 0 1 92.92 90.80)" x="-12.69" font-size="43.5">1</text><text transform="matrix(1.0365 0 0 1 112.41 90.80)" x="-6.04" font-size="43.5">.</text><text transform="matrix(1.0098 0 0 1 132.30 90.80)" x="-12.10" font-size="43.5">0</text>
<text transform="matrix(0.8214 0 0 1 1116.43 1178.20)" x="-14.20" font-size="43.5">F</text><text transform="matrix(1.2279 0 0 1 1135.02 1178.20)" x="-8.33" font-size="43.5">r</text><text transform="matrix(1.0351 0 0 1 1153.65 1178.20)" x="-12.05" font-size="43.5">e</text><text transform="matrix(1.0404 0 0 1 1178.92 1178.20)" x="-11.62" font-size="43.5">q</text><text transform="matrix(1.0332 0 0 1 1205.98 1178.20)" x="-12.06" font-size="43.5">u</text><text transform="matrix(1.0351 0 0 1 1232.18 1178.20)" x="-12.05" font-size="43.5">e</text><text transform="matrix(1.0332 0 0 1 1258.30 1178.20)" x="-12.13" font-size="43.5">n</text><text transform="matrix(0.9616 0 0 1 1282.70 1178.20)" x="-11.23" font-size="43.5">c</text><text transform="matrix(1.0291 0 0 1 1306.64 1178.20)" x="-10.89" font-size="43.5">y</text><text transform="matrix(0.9984 0 0 1 1340.12 1178.20)" x="-7.42" font-size="43.5">[</text><text transform="matrix(0.9533 0 0 1 1364.16 1178.20)" x="-15.72" font-size="43.5">H</text><text transform="matrix(1.0269 0 0 1 1390.78 1178.20)" x="-10.67" font-size="43.5">z</text><text transform="matrix(0.9984 0 0 1 1410.08 1178.20)" x="-4.66" font-size="43.5">]</text>
<g transform="translate(50,0) rotate(-90)"><text transform="matrix(0.9650 0 0 1 -731.48 0.00)" x="-14.51" font-size="43.5">A</text><text transform="matrix(1.0914 0 0 1 -696.80 0.00)" x="-18.13" font-size="43.5">m</text><text transform="matrix(1.0422 0 0 1 -662.65 0.00)" x="-12.58" font-size="43.5">p</text><text transform="matrix(0.9792 0 0 1 -644.38 0.00)" x="-4.84" font-size="43.5">l</text><text transform="matrix(0.9792 0 0 1 -632.80 0.00)" x="-4.82" font-size="43.5">i</text><text transform="matrix(1.2803 0 0 1 -618.79 0.00)" x="-6.21" font-size="43.5">t</text><text transform="matrix(1.0328 0 0 1 -597.60 0.00)" x="-12.06" font-size="43.5">u</text><text transform="matrix(1.0411 0 0 1 -571.79 0.00)" x="-11.61" font-size="43.5">d</text><text transform="matrix(1.0347 0 0 1 -544.96 0.00)" x="-12.05" font-size="43.5">e</text><text transform="matrix(0.9979 0 0 1 -511.05 0.00)" x="-7.42" font-size="43.5">[</text><text transform="matrix(1.0914 0 0 1 -482.27 0.00)" x="-18.13" font-size="43.5">m</text><text transform="matrix(1.1616 0 0 1 -455.07 0.00)" x="-6.04" font-size="43.5">/</text><text transform="matrix(0.9182 0 0 1 -437.09 0.00)" x="-10.69" font-size="43.5">s</text><text transform="matrix(0.9912 0 0 1 -418.12 -16.25)" x="-8.47" font-size="30.4">2</text><text transform="matrix(0.9979 0 0 1 -398.51 0.00)" x="-4.66" font-size="43.5">]</text></g>
<text transform="matrix(0.9435 0 0 1 440.97 50.60)" x="-12.51" font-size="50.9">s</text><text transform="matrix(1.0631 0 0 1 469.35 50.60)" x="-14.10" font-size="50.9">e</text><text transform="matrix(0.9435 0 0 1 497.89 50.60)" x="-12.51" font-size="50.9">s</text><text transform="matrix(0.9435 0 0 1 523.99 50.60)" x="-12.51" font-size="50.9">s</text><text transform="matrix(1.0061 0 0 1 543.88 50.60)" x="-5.64" font-size="50.9">i</text><text transform="matrix(1.0463 0 0 1 566.17 50.60)" x="-14.15" font-size="50.9">o</text><text transform="matrix(1.0612 0 0 1 597.50 50.60)" x="-14.19" font-size="50.9">n</text><text transform="matrix(1.0375 0 0 1 629.16 50.60)" x="-14.15" font-size="50.9">0</text><text transform="matrix(0.9909 0 0 1 661.48 50.60)" x="-14.85" font-size="50.9">1</text><text transform="matrix(0.9792 0 0 1 692.66 50.60)" x="-14.10" font-size="50.9">5</text><text transform="matrix(1.0610 0 0 1 717.89 50.60)" x="-8.48" font-size="50.9">-</text><text transform="matrix(1.3155 0 0 1 736.83 50.60)" x="-7.27" font-size="50.9">t</text><text transform="matrix(1.0375 0 0 1 762.50 50.60)" x="-14.15" font-size="50.9">0</text><text transform="matrix(1.0610 0 0 1 787.49 50.60)" x="-8.48" font-size="50.9">-</text><text transform="matrix(1.3155 0 0 1 806.42 50.60)" x="-7.27" font-size="50.9">t</text><text transform="matrix(0.8851 0 0 1 830.75 50.60)" x="-15.24" font-size="50.9">a</text><text transform="matrix(1.2611 0 0 1 859.44 50.60)" x="-9.74" font-size="50.9">r</text><text transform="matrix(1.1214 0 0 1 891.14 50.60)" x="-21.21" font-size="50.9">m</text><text transform="matrix(0.8851 0 0 1 929.97 50.60)" x="-15.24" font-size="50.9">a</text><text transform="matrix(0.9876 0 0 1 959.69 50.60)" x="-13.14" font-size="50.9">c</text><text transform="matrix(1.0610 0 0 1 982.68 50.60)" x="-8.48" font-size="50.9">-</text><text transform="matrix(1.0708 0 0 1 1008.52 50.60)" x="-14.73" font-size="50.9">b</text><text transform="matrix(1.0061 0 0 1 1030.49 50.60)" x="-5.64" font-size="50.9">i</text><text transform="matrix(0.9876 0 0 1 1051.03 50.60)" x="-13.14" font-size="50.9">c</text><text transform="matrix(1.0570 0 0 1 1079.80 50.60)" x="-12.74" font-size="50.9">y</text><text transform="matrix(0.9876 0 0 1 1108.23 50.60)" x="-13.14" font-size="50.9">c</text><text transform="matrix(1.0061 0 0 1 1129.14 50.60)" x="-5.67" font-size="50.9">l</text><text transform="matrix(1.0631 0 0 1 1151.55 50.60)" x="-14.10" font-size="50.9">e</text><text transform="matrix(1.0610 0 0 1 1175.95 50.60)" x="-8.48" font-size="50.9">-</text><text transform="matrix(1.1005 0 0 1 1201.70 50.60)" x="-14.48" font-size="50.9">k</text><text transform="matrix(1.0631 0 0 1 1227.68 50.60)" x="-14.10" font-size="50.9">e</text><text transform="matrix(1.0061 0 0 1 1250.01 50.60)" x="-5.64" font-size="50.9">i</text><text transform="matrix(1.0061 0 0 1 1263.93 50.60)" x="-5.67" font-size="50.9">l</text><text transform="matrix(1.0631 0 0 1 1286.34 50.60)" x="-14.10" font-size="50.9">e</text><text transform="matrix(1.2611 0 0 1 1314.27 50.60)" x="-9.74" font-size="50.9">r</text><text transform="matrix(1.0610 0 0 1 1328.13 50.60)" x="-8.48" font-size="50.9">-</text><text transform="matrix(1.0708 0 0 1 1353.98 50.60)" x="-14.73" font-size="50.9">p</text><text transform="matrix(1.0631 0 0 1 1384.43 50.60)" x="-14.10" font-size="50.9">e</text><text transform="matrix(1.0708 0 0 1 1416.60 50.60)" x="-14.73" font-size="50.9">b</text><text transform="matrix(1.0708 0 0 1 1448.40 50.60)" x="-14.73" font-size="50.9">b</text><text transform="matrix(1.0061 0 0 1 1470.37 50.60)" x="-5.67" font-size="50.9">l</text><text transform="matrix(1.0631 0 0 1 1492.78 50.60)" x="-14.10" font-size="50.9">e</text><text transform="matrix(1.0610 0 0 1 1517.18 50.60)" x="-8.48" font-size="50.9">-</text><text transform="matrix(1.0375 0 0 1 1542.14 50.60)" x="-14.15" font-size="50.9">0</text><text transform="matrix(1.0610 0 0 1 1567.13 50.60)" x="-8.48" font-size="50.9">-</text><text transform="matrix(0.8774 0 0 1 1592.32 50.60)" x="-16.96" font-size="50.9">S</text><text transform="matrix(1.0631 0 0 1 1623.43 50.60)" x="-14.10" font-size="50.9">e</text><text transform="matrix(0.8851 0 0 1 1653.37 50.60)" x="-15.24" font-size="50.9">a</text><text transform="matrix(1.3155 0 0 1 1679.39 50.60)" x="-7.27" font-size="50.9">t</text><text transform="matrix(0.9563 0 0 1 1707.00 50.60)" x="-17.72" font-size="50.9">B</text><text transform="matrix(1.0463 0 0 1 1738.84 50.60)" x="-14.15" font-size="50.9">o</text><text transform="matrix(1.3155 0 0 1 1764.05 50.60)" x="-7.27" font-size="50.9">t</text><text transform="matrix(0.8851 0 0 1 1788.38 50.60)" x="-15.24" font-size="50.9">a</text><text transform="matrix(0.9876 0 0 1 1818.10 50.60)" x="-13.14" font-size="50.9">c</text><text transform="matrix(0.9876 0 0 1 1845.64 50.60)" x="-13.14" font-size="50.9">c</text><text transform="matrix(0.8778 0 0 1 1872.11 50.60)" x="-14.05" font-size="50.9">_</text><text transform="matrix(1.0622 0 0 1 1899.46 50.60)" x="-12.72" font-size="50.9">v</text><text transform="matrix(1.0631 0 0 1 1929.74 50.60)" x="-14.10" font-size="50.9">e</text><text transform="matrix(1.2611 0 0 1 1957.68 50.60)" x="-9.74" font-size="50.9">r</text><text transform="matrix(1.0610 0 0 1 1971.54 50.60)" x="-8.48" font-size="50.9">-</text><text transform="matrix(1.2611 0 0 1 1993.15 50.60)" x="-9.74" font-size="50.9">r</text><text transform="matrix(1.0631 0 0 1 2015.54 50.60)" x="-14.10" font-size="50.9">e</text><text transform="matrix(1.0708 0 0 1 2047.71 50.60)" x="-14.73" font-size="50.9">p</text><text transform="matrix(1.0375 0 0 1 2078.63 50.60)" x="-14.15" font-size="50.9">0</text>
<rect x="1583.10" y="96.00" width="743.90" height="316.80" rx="8.33" ry="8.33" fill="#fff" fill-opacity="0.8" stroke="#ccc" stroke-opacity="0.8" stroke-width="3.6"/>
<path d="M1600.2 128.9H1683.5" stroke="#808080" stroke-opacity="0.9" stroke-width="2.08" stroke-linecap="square"/>
<path d="M1600.2 189.9H1683.5" stroke="#1f77b4" stroke-width="8.33" stroke-dasharray="30.83 13.33"/>
<path d="M1600.2 250.8H1683.5" stroke="#000" stroke-width="8.33" stroke-dasharray="53.33 13.33 8.33 13.33"/>
<path d="M1600.2 311.9H1683.5" stroke="#000" stroke-width="8.33" stroke-linecap="square"/>
<path d="M1600.2 372.9H1683.5" stroke="#1f77b4" stroke-width="8.33" stroke-linecap="square"/>
<text transform="matrix(0.9184 0 0 1 1731.56 145.00)" x="-16.48" font-size="43.5">R</text><text transform="matrix(0.8635 0 0 1 1755.86 145.00)" x="-13.02" font-size="43.5">a</text><text transform="matrix(0.9705 0 0 1 1786.39 145.00)" x="-15.73" font-size="43.5">w</text><text transform="matrix(0.8230 0 0 1 1829.59 145.00)" x="-14.20" font-size="43.5">F</text><text transform="matrix(0.8230 0 0 1 1853.62 145.00)" x="-14.20" font-size="43.5">F</text><text transform="matrix(1.0473 0 0 1 1876.82 145.00)" x="-13.28" font-size="43.5">T</text>
<text transform="matrix(0.8468 0 0 1 1729.50 205.30)" x="-15.14" font-size="43.5">P</text><text transform="matrix(1.0342 0 0 1 1752.10 205.30)" x="-12.05" font-size="43.5">e</text><text transform="matrix(0.8610 0 0 1 1776.99 205.30)" x="-13.02" font-size="43.5">a</text><text transform="matrix(1.0706 0 0 1 1804.29 205.30)" x="-12.37" font-size="43.5">k</text><text transform="matrix(0.8207 0 0 1 1840.57 205.30)" x="-14.20" font-size="43.5">F</text><text transform="matrix(1.2268 0 0 1 1859.14 205.30)" x="-8.33" font-size="43.5">r</text><text transform="matrix(1.0342 0 0 1 1877.76 205.30)" x="-12.05" font-size="43.5">e</text><text transform="matrix(1.0396 0 0 1 1903.01 205.30)" x="-11.62" font-size="43.5">q</text><text transform="matrix(1.0324 0 0 1 1930.04 205.30)" x="-12.06" font-size="43.5">u</text><text transform="matrix(1.0342 0 0 1 1956.22 205.30)" x="-12.05" font-size="43.5">e</text><text transform="matrix(1.0324 0 0 1 1982.31 205.30)" x="-12.13" font-size="43.5">n</text><text transform="matrix(0.9608 0 0 1 2006.70 205.30)" x="-11.23" font-size="43.5">c</text><text transform="matrix(1.0283 0 0 1 2030.62 205.30)" x="-10.89" font-size="43.5">y</text>
<text transform="matrix(1.0206 0 0 1 1729.12 265.80)" x="-12.10" font-size="43.5">8</text><text transform="matrix(1.0097 0 0 1 1755.63 265.80)" x="-12.10" font-size="43.5">0</text><text transform="matrix(0.9836 0 0 1 1788.68 265.80)" x="-19.34" font-size="43.5">%</text><text transform="matrix(0.9306 0 0 1 1836.59 265.80)" x="-15.14" font-size="43.5">B</text><text transform="matrix(0.8613 0 0 1 1862.43 265.80)" x="-13.02" font-size="43.5">a</text><text transform="matrix(1.0327 0 0 1 1889.17 265.80)" x="-12.13" font-size="43.5">n</text><text transform="matrix(1.0410 0 0 1 1914.73 265.80)" x="-11.61" font-size="43.5">d</text><text transform="matrix(0.9681 0 0 1 1945.73 265.80)" x="-15.73" font-size="43.5">w</text><text transform="matrix(0.9791 0 0 1 1968.57 265.80)" x="-4.82" font-size="43.5">i</text><text transform="matrix(1.0410 0 0 1 1986.83 265.80)" x="-11.61" font-size="43.5">d</text><text transform="matrix(1.2802 0 0 1 2009.03 265.80)" x="-6.21" font-size="43.5">t</text><text transform="matrix(1.0399 0 0 1 2030.46 265.80)" x="-12.19" font-size="43.5">h</text>
<text transform="matrix(0.8544 0 0 1 1728.95 327.10)" x="-14.50" font-size="43.5">S</text><text transform="matrix(1.0920 0 0 1 1762.39 327.10)" x="-18.13" font-size="43.5">m</text><text transform="matrix(1.0189 0 0 1 1795.34 327.10)" x="-12.10" font-size="43.5">o</text><text transform="matrix(1.0189 0 0 1 1820.85 327.10)" x="-12.10" font-size="43.5">o</text><text transform="matrix(1.2809 0 0 1 1841.83 327.10)" x="-6.21" font-size="43.5">t</text><text transform="matrix(1.0405 0 0 1 1863.27 327.10)" x="-12.19" font-size="43.5">h</text><text transform="matrix(1.0352 0 0 1 1889.23 327.10)" x="-12.05" font-size="43.5">e</text><text transform="matrix(1.0417 0 0 1 1914.50 327.10)" x="-11.61" font-size="43.5">d</text><text transform="matrix(0.9166 0 0 1 1957.66 327.10)" x="-16.48" font-size="43.5">R</text><text transform="matrix(0.8618 0 0 1 1981.92 327.10)" x="-13.02" font-size="43.5">a</text><text transform="matrix(0.9687 0 0 1 2012.38 327.10)" x="-15.73" font-size="43.5">w</text><text transform="matrix(0.8215 0 0 1 2055.51 327.10)" x="-14.20" font-size="43.5">F</text><text transform="matrix(0.8215 0 0 1 2079.49 327.10)" x="-14.20" font-size="43.5">F</text><text transform="matrix(1.0453 0 0 1 2102.64 327.10)" x="-13.28" font-size="43.5">T</text>
<text transform="matrix(0.8542 0 0 1 1728.95 386.70)" x="-14.50" font-size="43.5">S</text><text transform="matrix(1.0918 0 0 1 1762.39 386.70)" x="-18.13" font-size="43.5">m</text><text transform="matrix(1.0187 0 0 1 1795.33 386.70)" x="-12.10" font-size="43.5">o</text><text transform="matrix(1.0187 0 0 1 1820.83 386.70)" x="-12.10" font-size="43.5">o</text><text transform="matrix(1.2807 0 0 1 1841.81 386.70)" x="-6.21" font-size="43.5">t</text><text transform="matrix(1.0403 0 0 1 1863.25 386.70)" x="-12.19" font-size="43.5">h</text><text transform="matrix(1.0351 0 0 1 1889.20 386.70)" x="-12.05" font-size="43.5">e</text><text transform="matrix(1.0415 0 0 1 1914.47 386.70)" x="-11.61" font-size="43.5">d</text><text transform="matrix(1.0135 0 0 1 1947.84 386.70)" x="-6.04" font-size="43.5">I</text><text transform="matrix(0.8542 0 0 1 1967.43 386.70)" x="-14.50" font-size="43.5">S</text><text transform="matrix(0.9473 0 0 1 1996.85 386.70)" x="-16.91" font-size="43.5">O</text><text transform="matrix(0.9448 0 0 1 2047.13 386.70)" x="-20.55" font-size="43.5">W</text><text transform="matrix(1.0351 0 0 1 2078.15 386.70)" x="-12.05" font-size="43.5">e</text><text transform="matrix(0.9796 0 0 1 2096.73 386.70)" x="-4.82" font-size="43.5">i</text><text transform="matrix(1.0415 0 0 1 2115.00 386.70)" x="-11.61" font-size="43.5">g</text><text transform="matrix(1.0403 0 0 1 2142.30 386.70)" x="-12.19" font-size="43.5">h</text><text transform="matrix(1.2807 0 0 1 2163.62 386.70)" x="-6.21" font-size="43.5">t</text><text transform="matrix(1.0351 0 0 1 2184.60 386.70)" x="-12.05" font-size="43.5">e</text><text transform="matrix(1.0415 0 0 1 2209.87 386.70)" x="-11.61" font-size="43.5">d</text><text transform="matrix(0.8214 0 0 1 2249.91 386.70)" x="-14.20" font-size="43.5">F</text><text transform="matrix(0.8214 0 0 1 2273.89 386.70)" x="-14.20" font-size="43.5">F</text><text transform="matrix(1.0452 0 0 1 2297.05 386.70)" x="-13.28" font-size="43.5">T</text>
</svg></body></html>
